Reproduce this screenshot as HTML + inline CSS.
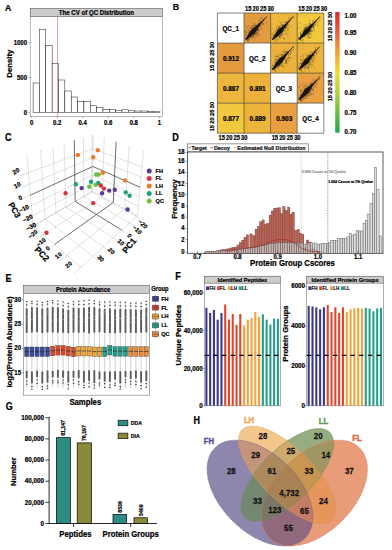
<!DOCTYPE html>
<html><head><meta charset="utf-8"><style>
html,body{margin:0;padding:0;background:#fff;width:392px;height:550px;overflow:hidden}
svg{display:block}
text{font-family:"Liberation Sans",sans-serif}
</style></head><body>
<svg width="392" height="550" viewBox="0 0 392 550">
<rect x="0" y="0" width="392" height="550" fill="#fff"/>
<text x="4.90" y="11.20" font-size="8.6" font-weight="bold" text-anchor="start" fill="#000" stroke="#000" stroke-width="0.22" transform="translate(4.90 11.20) scale(1 1.12) translate(-4.90 -11.20)">A</text>
<rect x="30.20" y="8.40" width="132.40" height="8.20" fill="#cccccc" stroke="#444" stroke-width="0.5"/>
<text x="96.40" y="14.90" font-size="6.1" font-weight="bold" text-anchor="middle" fill="#000" stroke="#000" stroke-width="0.2" transform="translate(96.40 14.90) scale(1 1.12) translate(-96.40 -14.90)">The CV of QC Distribution</text>
<rect x="30.20" y="16.60" width="132.40" height="100.00" fill="none" stroke="#8c8c8c" stroke-width="0.6"/>
<rect x="33.10" y="83.00" width="6.35" height="29.60" fill="#fff" stroke="#000" stroke-width="0.45"/>
<rect x="39.45" y="29.40" width="6.35" height="83.20" fill="#fff" stroke="#000" stroke-width="0.45"/>
<rect x="45.80" y="45.40" width="6.35" height="67.20" fill="#fff" stroke="#000" stroke-width="0.45"/>
<rect x="52.15" y="63.40" width="6.35" height="49.20" fill="#fff" stroke="#000" stroke-width="0.45"/>
<rect x="58.50" y="80.00" width="6.35" height="32.60" fill="#fff" stroke="#000" stroke-width="0.45"/>
<rect x="64.85" y="91.00" width="6.35" height="21.60" fill="#fff" stroke="#000" stroke-width="0.45"/>
<rect x="71.20" y="97.00" width="6.35" height="15.60" fill="#fff" stroke="#000" stroke-width="0.45"/>
<rect x="77.55" y="101.60" width="6.35" height="11.00" fill="#fff" stroke="#000" stroke-width="0.45"/>
<rect x="83.90" y="101.60" width="6.35" height="11.00" fill="#fff" stroke="#000" stroke-width="0.45"/>
<rect x="90.25" y="105.80" width="6.35" height="6.80" fill="#fff" stroke="#000" stroke-width="0.45"/>
<rect x="96.60" y="107.30" width="6.35" height="5.30" fill="#fff" stroke="#000" stroke-width="0.45"/>
<rect x="102.95" y="109.40" width="6.35" height="3.20" fill="#fff" stroke="#000" stroke-width="0.45"/>
<rect x="109.30" y="109.40" width="6.35" height="3.20" fill="#fff" stroke="#000" stroke-width="0.45"/>
<rect x="115.65" y="110.40" width="6.35" height="2.20" fill="#fff" stroke="#000" stroke-width="0.45"/>
<rect x="122.00" y="109.80" width="6.35" height="2.80" fill="#fff" stroke="#000" stroke-width="0.45"/>
<rect x="128.35" y="110.80" width="6.35" height="1.80" fill="#fff" stroke="#000" stroke-width="0.45"/>
<rect x="134.70" y="111.00" width="6.35" height="1.60" fill="#fff" stroke="#000" stroke-width="0.45"/>
<rect x="141.05" y="111.00" width="6.35" height="1.60" fill="#fff" stroke="#000" stroke-width="0.45"/>
<rect x="147.40" y="111.40" width="6.35" height="1.20" fill="#fff" stroke="#000" stroke-width="0.45"/>
<rect x="153.75" y="111.80" width="6.35" height="0.80" fill="#fff" stroke="#000" stroke-width="0.45"/>
<line x1="57.60" y1="16.60" x2="57.60" y2="116.60" stroke="#e05050" stroke-width="0.6"/>
<line x1="28.60" y1="112.60" x2="30.20" y2="112.60" stroke="#555" stroke-width="0.5"/>
<text x="27.00" y="114.70" font-size="6.0" font-weight="bold" text-anchor="end" fill="#000" stroke="#000" stroke-width="0.2" transform="translate(27.00 114.70) scale(1 1.12) translate(-27.00 -114.70)">0</text>
<line x1="28.60" y1="77.60" x2="30.20" y2="77.60" stroke="#555" stroke-width="0.5"/>
<text x="27.00" y="79.70" font-size="6.0" font-weight="bold" text-anchor="end" fill="#000" stroke="#000" stroke-width="0.2" transform="translate(27.00 79.70) scale(1 1.12) translate(-27.00 -79.70)">500</text>
<line x1="28.60" y1="42.60" x2="30.20" y2="42.60" stroke="#555" stroke-width="0.5"/>
<text x="27.00" y="44.70" font-size="6.0" font-weight="bold" text-anchor="end" fill="#000" stroke="#000" stroke-width="0.2" transform="translate(27.00 44.70) scale(1 1.12) translate(-27.00 -44.70)">1000</text>
<line x1="31.60" y1="116.60" x2="31.60" y2="118.30" stroke="#555" stroke-width="0.5"/>
<text x="31.60" y="125.00" font-size="6.0" font-weight="bold" text-anchor="middle" fill="#000" stroke="#000" stroke-width="0.2" transform="translate(31.60 125.00) scale(1 1.12) translate(-31.60 -125.00)">0</text>
<line x1="57.15" y1="116.60" x2="57.15" y2="118.30" stroke="#555" stroke-width="0.5"/>
<text x="57.15" y="125.00" font-size="6.0" font-weight="bold" text-anchor="middle" fill="#000" stroke="#000" stroke-width="0.2" transform="translate(57.15 125.00) scale(1 1.12) translate(-57.15 -125.00)">0.2</text>
<line x1="82.70" y1="116.60" x2="82.70" y2="118.30" stroke="#555" stroke-width="0.5"/>
<text x="82.70" y="125.00" font-size="6.0" font-weight="bold" text-anchor="middle" fill="#000" stroke="#000" stroke-width="0.2" transform="translate(82.70 125.00) scale(1 1.12) translate(-82.70 -125.00)">0.4</text>
<line x1="108.25" y1="116.60" x2="108.25" y2="118.30" stroke="#555" stroke-width="0.5"/>
<text x="108.25" y="125.00" font-size="6.0" font-weight="bold" text-anchor="middle" fill="#000" stroke="#000" stroke-width="0.2" transform="translate(108.25 125.00) scale(1 1.12) translate(-108.25 -125.00)">0.6</text>
<line x1="133.80" y1="116.60" x2="133.80" y2="118.30" stroke="#555" stroke-width="0.5"/>
<text x="133.80" y="125.00" font-size="6.0" font-weight="bold" text-anchor="middle" fill="#000" stroke="#000" stroke-width="0.2" transform="translate(133.80 125.00) scale(1 1.12) translate(-133.80 -125.00)">0.8</text>
<line x1="159.35" y1="116.60" x2="159.35" y2="118.30" stroke="#555" stroke-width="0.5"/>
<text x="159.35" y="125.00" font-size="6.0" font-weight="bold" text-anchor="middle" fill="#000" stroke="#000" stroke-width="0.2" transform="translate(159.35 125.00) scale(1 1.12) translate(-159.35 -125.00)">1</text>
<text x="11.90" y="63.70" font-size="7.75" font-weight="bold" text-anchor="middle" fill="#000" stroke="#000" stroke-width="0.22" transform="rotate(-90 11.90 63.70)">Density</text>
<text x="172.80" y="10.00" font-size="8.8" font-weight="bold" text-anchor="start" fill="#000" stroke="#000" stroke-width="0.22" transform="translate(172.80 10.00) scale(1 1.12) translate(-172.80 -10.00)">B</text>
<rect x="217.40" y="13.00" width="26.60" height="30.05" fill="#fff" stroke="none" stroke-width="0.5"/>
<text x="230.70" y="31.12" font-size="6.3" font-weight="bold" text-anchor="middle" fill="#000" stroke="#000" stroke-width="0.2" transform="translate(230.70 31.12) scale(1 1.12) translate(-230.70 -31.12)">QC_1</text>
<rect x="244.00" y="13.00" width="26.60" height="30.05" fill="#e49a3e" stroke="none" stroke-width="0.5"/>
<path d="M245.60 39.85 L247.22 39.18 L248.57 38.26 L249.86 37.29 L251.13 36.30 L252.37 35.29 L253.60 34.26 L254.82 33.23 L255.73 31.92 L256.58 30.55 L257.43 29.19 L258.30 27.84 L259.18 26.50 L260.08 25.17 L260.99 23.86 L261.91 22.55 L262.84 21.27 L263.80 19.99 L264.77 18.74 L265.77 17.51 L266.80 16.30 L266.80 16.30 L265.71 17.45 L264.59 18.57 L263.44 19.67 L262.28 20.75 L261.09 21.82 L259.89 22.87 L258.68 23.91 L257.46 24.94 L256.22 25.96 L254.97 26.96 L253.70 27.96 L252.43 28.94 L251.22 29.99 L250.32 31.31 L249.43 32.64 L248.55 33.98 L247.70 35.34 L246.87 36.73 L246.10 38.17 L245.60 39.85Z" fill="#141414"/>
<line x1="245.60" y1="39.85" x2="266.80" y2="16.30" stroke="#141414" stroke-width="0.7"/>
<path d="M257.45 32.58h0.7M251.81 37.12h0.7M252.21 31.18h0.7M263.13 20.76h0.7M255.68 32.27h0.7M259.29 24.55h0.7M254.92 25.67h0.7M251.29 31.36h0.7M245.23 34.96h0.7M246.16 38.56h0.7M252.45 30.58h0.7M251.24 27.23h0.7M254.30 31.38h0.7M256.03 25.14h0.7M247.28 28.06h0.7M246.49 28.33h0.7M249.29 39.43h0.7M247.30 40.10h0.7M254.94 28.13h0.7M257.30 29.02h0.7M258.58 24.67h0.7M249.91 32.23h0.7M249.39 35.46h0.7M252.76 36.61h0.7M244.78 37.83h0.7M245.30 31.47h0.7M260.11 18.01h0.7M251.43 30.71h0.7M259.24 19.54h0.7M257.89 23.81h0.7M251.64 29.69h0.7M254.89 25.15h0.7M254.59 31.63h0.7M259.76 18.28h0.7M262.48 23.69h0.7M252.56 33.59h0.7M255.87 36.41h0.7M254.57 28.91h0.7M252.51 31.15h0.7M250.99 29.31h0.7M261.54 17.84h0.7M246.07 39.00h0.7M254.35 32.04h0.7M252.75 31.15h0.7M257.71 30.58h0.7M251.09 31.94h0.7M263.75 20.93h0.7M254.23 39.81h0.7M256.63 25.45h0.7M249.17 37.02h0.7M247.92 32.69h0.7M247.13 36.33h0.7M258.55 24.07h0.7M248.41 38.92h0.7M256.38 31.89h0.7M259.42 23.97h0.7M253.29 31.08h0.7M250.08 37.47h0.7M260.73 23.55h0.7M252.31 31.06h0.7M248.67 32.89h0.7M250.15 30.65h0.7M248.21 29.25h0.7M255.82 28.71h0.7M256.73 32.89h0.7M249.58 33.26h0.7M252.96 34.75h0.7M251.88 37.04h0.7M254.99 34.09h0.7M253.68 29.76h0.7M246.09 37.10h0.7M254.53 33.29h0.7M253.68 27.77h0.7M258.05 30.16h0.7M252.27 30.19h0.7M254.23 34.26h0.7M254.74 25.97h0.7M254.81 27.57h0.7M253.32 36.80h0.7M256.61 25.01h0.7M255.63 31.08h0.7M250.82 33.49h0.7M253.80 23.92h0.7M257.20 30.17h0.7M253.73 25.38h0.7M253.70 27.10h0.7M257.93 28.55h0.7M253.37 27.76h0.7M253.31 35.28h0.7M250.93 36.03h0.7M255.90 27.28h0.7M265.32 18.09h0.7M261.90 17.33h0.7M247.54 40.32h0.7M256.45 26.59h0.7M249.13 26.48h0.7M248.77 31.55h0.7M255.31 33.62h0.7M255.21 30.95h0.7M249.84 33.16h0.7M253.95 29.26h0.7M258.66 22.69h0.7M261.74 19.59h0.7M257.76 23.81h0.7M261.94 22.05h0.7M257.50 29.77h0.7M248.73 31.57h0.7M247.86 40.60h0.7M249.50 32.83h0.7M258.81 34.98h0.7M246.57 39.44h0.7M253.54 33.66h0.7M245.71 38.67h0.7M260.77 28.57h0.7M260.40 21.14h0.7M254.07 29.91h0.7M245.21 35.35h0.7M258.06 26.91h0.7M256.51 33.96h0.7M250.48 36.58h0.7M253.98 30.25h0.7M256.72 28.21h0.7M255.91 29.57h0.7M262.76 20.06h0.7M259.81 26.09h0.7M254.42 34.02h0.7M252.56 37.11h0.7M249.24 33.66h0.7M257.38 30.37h0.7M259.86 27.12h0.7M250.66 29.29h0.7M257.24 28.12h0.7M251.65 37.18h0.7M252.85 27.45h0.7M253.40 25.68h0.7M250.84 35.75h0.7M246.87 38.55h0.7M249.05 38.58h0.7M251.10 34.57h0.7M246.53 37.73h0.7M259.28 26.22h0.7M247.47 40.25h0.7M257.59 25.22h0.7M259.19 21.74h0.7M256.46 33.38h0.7M262.08 25.34h0.7M245.49 32.96h0.7M252.89 25.69h0.7M250.21 28.18h0.7M260.34 26.11h0.7M256.71 27.58h0.7M253.58 29.55h0.7M256.39 28.92h0.7M255.34 27.26h0.7M263.27 20.89h0.7M262.49 24.92h0.7M246.40 31.76h0.7M259.36 23.39h0.7M253.85 29.46h0.7M251.94 27.27h0.7M252.43 29.92h0.7M248.32 25.39h0.7M258.50 26.71h0.7M245.26 38.26h0.7M255.73 31.63h0.7M257.43 33.45h0.7M251.78 28.15h0.7M252.61 35.45h0.7M253.16 35.36h0.7M259.81 26.02h0.7M258.54 24.90h0.7M252.60 29.18h0.7M247.61 30.33h0.7M248.97 31.04h0.7M247.66 38.04h0.7M255.50 27.44h0.7M261.82 24.56h0.7M257.96 24.13h0.7M248.00 38.96h0.7M257.09 30.25h0.7M258.65 30.64h0.7M254.42 33.44h0.7M245.03 30.68h0.7M255.64 36.00h0.7M247.62 40.34h0.7M250.00 33.13h0.7M254.79 30.66h0.7M249.80 35.71h0.7M257.87 29.68h0.7M254.00 37.43h0.7M265.82 23.11h0.7M248.13 37.65h0.7M246.74 39.60h0.7M254.39 25.51h0.7M246.96 38.90h0.7M255.48 25.80h0.7M246.46 26.02h0.7M251.11 34.39h0.7M258.42 32.92h0.7M254.97 26.99h0.7M256.99 30.36h0.7M259.69 29.84h0.7M257.97 21.24h0.7M258.74 35.22h0.7M254.55 34.67h0.7M252.78 29.78h0.7M262.85 23.48h0.7M255.25 33.77h0.7M246.67 36.08h0.7M258.36 25.82h0.7M250.02 36.74h0.7M258.38 31.22h0.7M258.07 25.05h0.7M251.49 32.64h0.7M256.74 34.98h0.7M263.29 23.82h0.7M255.33 28.00h0.7M257.69 25.21h0.7M251.47 25.87h0.7M255.61 35.78h0.7M246.29 33.05h0.7M257.60 35.13h0.7M260.34 22.46h0.7M251.59 32.67h0.7M249.81 35.32h0.7M248.97 28.65h0.7M250.78 32.89h0.7M247.67 32.73h0.7M261.58 28.69h0.7M251.67 30.95h0.7M255.96 27.41h0.7M253.48 37.23h0.7M247.76 34.51h0.7M248.97 32.06h0.7M254.44 32.98h0.7M261.73 23.80h0.7M251.25 27.55h0.7M251.46 28.65h0.7M256.08 33.15h0.7M254.56 28.94h0.7M250.52 34.29h0.7M252.43 27.91h0.7M253.82 34.94h0.7M245.73 38.49h0.7M251.57 39.12h0.7M257.90 28.19h0.7M256.53 28.92h0.7M251.98 25.80h0.7M256.60 30.28h0.7M248.78 39.05h0.7M254.30 24.37h0.7M251.14 32.21h0.7M252.55 33.99h0.7M247.72 36.68h0.7M256.75 30.72h0.7M253.73 29.66h0.7M253.56 23.48h0.7M257.91 25.12h0.7" stroke="#222" stroke-width="0.75" stroke-opacity="0.55" fill="none"/>
<rect x="270.60" y="13.00" width="26.60" height="30.05" fill="#edb63c" stroke="none" stroke-width="0.5"/>
<path d="M272.20 39.85 L273.82 39.18 L275.17 38.26 L276.46 37.29 L277.73 36.30 L278.97 35.29 L280.20 34.26 L281.42 33.23 L282.33 31.92 L283.18 30.55 L284.03 29.19 L284.90 27.84 L285.78 26.50 L286.68 25.17 L287.59 23.86 L288.51 22.55 L289.44 21.27 L290.40 19.99 L291.37 18.74 L292.37 17.51 L293.40 16.30 L293.40 16.30 L292.31 17.45 L291.19 18.57 L290.04 19.67 L288.88 20.75 L287.69 21.82 L286.49 22.87 L285.28 23.91 L284.06 24.94 L282.82 25.96 L281.57 26.96 L280.30 27.96 L279.03 28.94 L277.82 29.99 L276.92 31.31 L276.03 32.64 L275.15 33.98 L274.30 35.34 L273.47 36.73 L272.70 38.17 L272.20 39.85Z" fill="#141414"/>
<line x1="272.20" y1="39.85" x2="293.40" y2="16.30" stroke="#141414" stroke-width="0.7"/>
<path d="M274.06 36.21h0.7M277.21 30.38h0.7M282.46 25.15h0.7M272.93 35.60h0.7M288.71 21.57h0.7M275.54 31.54h0.7M275.23 35.83h0.7M285.06 30.37h0.7M286.46 24.88h0.7M275.64 32.08h0.7M271.48 37.92h0.7M281.94 27.62h0.7M279.53 25.95h0.7M285.38 26.24h0.7M281.83 31.07h0.7M272.09 38.48h0.7M280.33 38.52h0.7M278.52 30.20h0.7M282.80 24.34h0.7M286.32 22.17h0.7M278.14 28.70h0.7M280.54 22.73h0.7M282.36 25.46h0.7M278.17 27.71h0.7M282.16 29.62h0.7M284.05 27.93h0.7M285.50 28.93h0.7M275.97 29.84h0.7M275.94 38.15h0.7M281.52 34.71h0.7M278.48 28.02h0.7M288.26 28.77h0.7M277.41 29.19h0.7M278.65 36.53h0.7M277.01 32.61h0.7M283.90 26.90h0.7M279.95 28.69h0.7M278.08 34.08h0.7M282.76 30.85h0.7M279.17 33.76h0.7M283.07 28.12h0.7M285.33 29.26h0.7M281.78 29.56h0.7M276.83 36.06h0.7M279.47 30.21h0.7M278.07 35.82h0.7M293.04 17.56h0.7M282.11 30.91h0.7M278.14 33.70h0.7M276.13 32.55h0.7M282.28 29.69h0.7M278.15 29.21h0.7M279.51 26.91h0.7M283.65 25.87h0.7M282.59 32.14h0.7M280.72 25.24h0.7M280.45 32.56h0.7M280.23 30.70h0.7M282.85 28.37h0.7M281.85 30.25h0.7M287.79 23.94h0.7M282.43 26.92h0.7M285.62 24.35h0.7M280.23 23.10h0.7M281.61 28.96h0.7M281.63 35.61h0.7M282.27 28.07h0.7M282.68 37.15h0.7M285.37 27.65h0.7M280.01 36.97h0.7M282.75 27.06h0.7M276.11 27.29h0.7M281.63 25.19h0.7M283.83 25.37h0.7M278.63 34.41h0.7M279.13 27.06h0.7M281.84 32.17h0.7M276.10 28.66h0.7M277.11 29.49h0.7M278.10 33.51h0.7M279.92 30.24h0.7M273.47 39.41h0.7M278.71 30.52h0.7M285.81 33.59h0.7M271.82 34.51h0.7M282.78 25.20h0.7M285.27 22.41h0.7M280.42 34.73h0.7M285.68 26.41h0.7M282.53 27.84h0.7M278.14 32.26h0.7M287.64 24.83h0.7M281.53 31.02h0.7M286.63 28.04h0.7M279.87 30.93h0.7M287.80 33.75h0.7M284.61 31.71h0.7M274.86 39.50h0.7M272.35 36.04h0.7M277.42 33.40h0.7M282.34 30.25h0.7M280.75 28.40h0.7M293.08 17.43h0.7M287.59 30.43h0.7M286.13 26.33h0.7M286.18 32.37h0.7M273.80 34.30h0.7M276.70 25.49h0.7M279.55 36.65h0.7M278.94 33.15h0.7M281.71 24.92h0.7M280.56 27.80h0.7M275.09 35.56h0.7M279.44 29.83h0.7M279.79 35.77h0.7M286.88 25.29h0.7M277.61 28.57h0.7M274.51 32.50h0.7M283.69 31.19h0.7M284.85 25.71h0.7M279.34 32.79h0.7M282.61 31.04h0.7M286.55 22.01h0.7M288.03 17.60h0.7M275.48 35.27h0.7M289.45 19.13h0.7M285.20 24.25h0.7M279.06 27.56h0.7M291.13 18.74h0.7M283.05 38.28h0.7M282.45 30.34h0.7M277.91 29.29h0.7M273.78 37.51h0.7M288.69 22.64h0.7M282.58 33.76h0.7M279.22 37.78h0.7M278.60 28.71h0.7M284.78 27.82h0.7M279.62 32.67h0.7M287.55 27.52h0.7M271.15 29.72h0.7M289.84 19.66h0.7M279.79 33.51h0.7M281.22 34.88h0.7M274.56 36.48h0.7M277.63 39.36h0.7M282.31 34.19h0.7M285.38 21.77h0.7M281.48 33.21h0.7M280.59 29.89h0.7M286.18 27.56h0.7M277.63 33.19h0.7M284.08 27.47h0.7M278.77 27.40h0.7M288.51 21.16h0.7M281.84 28.99h0.7M281.34 30.41h0.7M277.63 35.45h0.7M286.86 24.81h0.7M284.92 27.51h0.7M285.14 34.15h0.7M278.39 34.71h0.7M285.91 25.58h0.7M273.66 33.90h0.7M286.63 21.25h0.7M282.03 31.56h0.7M276.97 26.23h0.7M272.70 39.02h0.7M276.53 33.89h0.7M281.48 30.30h0.7M271.57 34.67h0.7M283.96 24.63h0.7M271.49 33.07h0.7M280.66 25.43h0.7M277.08 36.93h0.7M283.31 29.95h0.7M275.50 34.96h0.7M279.63 35.65h0.7M280.14 26.58h0.7M283.01 27.26h0.7M281.11 35.33h0.7M274.34 40.29h0.7M282.44 21.84h0.7M279.38 31.04h0.7M274.32 35.28h0.7M277.05 34.74h0.7M273.08 28.80h0.7M287.61 25.51h0.7M278.69 36.42h0.7M288.31 18.41h0.7M277.51 31.41h0.7M282.67 27.01h0.7M276.29 39.56h0.7M281.00 33.73h0.7M290.54 17.91h0.7M280.99 34.56h0.7M281.50 32.16h0.7M287.46 36.57h0.7M284.30 27.74h0.7M282.16 30.59h0.7M272.71 38.51h0.7M281.94 24.59h0.7M280.65 30.00h0.7M284.23 38.43h0.7M284.64 27.28h0.7M277.20 34.67h0.7M279.07 31.77h0.7M287.32 34.33h0.7M289.43 25.74h0.7M291.16 26.97h0.7M274.68 31.20h0.7M282.25 29.87h0.7M279.37 28.90h0.7M287.14 29.79h0.7M281.22 28.82h0.7M285.81 23.80h0.7M279.83 32.97h0.7M275.35 41.41h0.7M281.51 32.14h0.7M283.06 29.58h0.7M277.57 40.12h0.7M283.97 27.97h0.7M291.53 15.89h0.7M283.98 26.41h0.7M276.76 40.94h0.7M273.66 38.67h0.7M280.78 31.28h0.7M279.17 37.85h0.7M279.08 26.56h0.7M275.55 37.17h0.7M276.12 37.17h0.7M280.99 27.58h0.7M271.11 37.59h0.7M281.29 27.56h0.7M288.85 20.30h0.7M283.93 29.72h0.7M281.87 30.59h0.7M285.19 24.96h0.7M281.53 27.97h0.7M290.26 20.19h0.7M279.35 21.32h0.7M275.74 30.50h0.7M279.84 29.26h0.7M275.27 35.35h0.7M286.44 27.91h0.7M280.74 35.43h0.7M279.26 34.91h0.7M278.95 36.89h0.7M291.24 18.10h0.7M284.21 22.07h0.7M283.89 39.22h0.7M281.65 31.89h0.7M273.10 38.83h0.7M279.71 36.86h0.7M284.27 38.62h0.7M276.25 36.67h0.7" stroke="#222" stroke-width="0.75" stroke-opacity="0.55" fill="none"/>
<rect x="297.20" y="13.00" width="26.60" height="30.05" fill="#f2c83e" stroke="none" stroke-width="0.5"/>
<path d="M298.80 39.85 L300.42 39.18 L301.77 38.26 L303.06 37.29 L304.33 36.30 L305.57 35.29 L306.80 34.26 L308.02 33.23 L308.93 31.92 L309.78 30.55 L310.63 29.19 L311.50 27.84 L312.38 26.50 L313.28 25.17 L314.19 23.86 L315.11 22.55 L316.04 21.27 L317.00 19.99 L317.97 18.74 L318.97 17.51 L320.00 16.30 L320.00 16.30 L318.91 17.45 L317.79 18.57 L316.64 19.67 L315.48 20.75 L314.29 21.82 L313.09 22.87 L311.88 23.91 L310.66 24.94 L309.42 25.96 L308.17 26.96 L306.90 27.96 L305.63 28.94 L304.42 29.99 L303.52 31.31 L302.63 32.64 L301.75 33.98 L300.90 35.34 L300.07 36.73 L299.30 38.17 L298.80 39.85Z" fill="#141414"/>
<line x1="298.80" y1="39.85" x2="320.00" y2="16.30" stroke="#141414" stroke-width="0.7"/>
<path d="M298.90 38.66h0.7M312.82 23.96h0.7M302.13 37.94h0.7M312.49 26.16h0.7M309.56 23.13h0.7M316.68 21.74h0.7M301.93 41.39h0.7M306.36 33.96h0.7M298.60 38.39h0.7M300.56 40.15h0.7M303.87 29.49h0.7M308.33 34.86h0.7M304.91 35.59h0.7M298.64 33.73h0.7M304.34 32.33h0.7M310.27 31.43h0.7M304.48 31.77h0.7M311.64 27.17h0.7M307.64 31.22h0.7M298.71 38.49h0.7M299.32 38.25h0.7M308.58 23.14h0.7M310.62 24.78h0.7M305.12 30.44h0.7M309.35 25.63h0.7M299.87 39.53h0.7M308.20 32.65h0.7M307.74 25.19h0.7M308.51 29.61h0.7M307.19 31.03h0.7M307.55 27.72h0.7M309.09 33.46h0.7M302.17 35.79h0.7M300.40 33.75h0.7M305.77 32.97h0.7M314.10 22.31h0.7M312.56 26.42h0.7M300.28 23.47h0.7M308.00 29.89h0.7M302.70 36.05h0.7M312.56 21.35h0.7M307.06 35.02h0.7M298.06 37.91h0.7M310.74 30.76h0.7M314.11 25.17h0.7M318.44 18.85h0.7M300.91 36.81h0.7M310.91 27.84h0.7M299.95 39.60h0.7M303.14 34.15h0.7M313.87 22.65h0.7M303.92 33.61h0.7M308.96 37.99h0.7M312.76 27.61h0.7M302.65 32.66h0.7M303.66 24.76h0.7M309.94 23.23h0.7M308.54 30.62h0.7M304.38 35.22h0.7M314.10 30.01h0.7M312.94 31.83h0.7M309.06 27.66h0.7M310.38 25.14h0.7M309.42 30.93h0.7M313.04 24.90h0.7M302.57 39.88h0.7M307.40 28.94h0.7M304.77 35.75h0.7M310.30 30.02h0.7M310.57 34.60h0.7M307.10 32.72h0.7M310.61 31.55h0.7M303.39 33.40h0.7M304.57 30.03h0.7M301.48 31.34h0.7M313.52 29.01h0.7M304.28 36.93h0.7M300.37 34.99h0.7M306.10 32.35h0.7M305.42 24.51h0.7M301.30 37.36h0.7M311.53 36.58h0.7M304.34 30.39h0.7M308.78 20.50h0.7M303.04 42.39h0.7M304.52 33.80h0.7M304.11 29.34h0.7M303.24 28.17h0.7M313.04 26.65h0.7M308.69 25.37h0.7M298.79 38.56h0.7M302.90 36.80h0.7M298.42 37.62h0.7M308.86 30.65h0.7M304.72 27.29h0.7M308.59 38.05h0.7M310.22 24.31h0.7M315.96 20.46h0.7M305.21 28.67h0.7M314.43 22.77h0.7M304.56 28.80h0.7M301.61 37.35h0.7M311.03 33.79h0.7M302.23 34.44h0.7M313.21 26.57h0.7M307.40 36.93h0.7M311.27 29.63h0.7M310.94 30.54h0.7M304.78 32.13h0.7M312.94 25.40h0.7M311.35 30.76h0.7M309.24 30.05h0.7M298.73 38.51h0.7M309.50 24.77h0.7M306.46 32.46h0.7M308.80 33.14h0.7M309.09 27.69h0.7M311.72 24.31h0.7M304.65 34.76h0.7M309.90 26.94h0.7M301.23 35.09h0.7M309.82 30.64h0.7M315.29 21.12h0.7M300.74 26.65h0.7M314.56 25.07h0.7M305.56 28.86h0.7M300.40 40.01h0.7M306.90 37.47h0.7M313.14 28.64h0.7M309.62 33.90h0.7M303.16 39.90h0.7M304.19 28.01h0.7M303.00 30.39h0.7M306.88 27.65h0.7M300.67 36.46h0.7M306.69 32.11h0.7M312.85 28.98h0.7M312.59 31.41h0.7M299.33 39.05h0.7M309.36 23.58h0.7M306.86 32.00h0.7M299.17 37.68h0.7M309.42 26.80h0.7M317.60 25.40h0.7M304.06 28.25h0.7M305.69 29.39h0.7M299.94 37.23h0.7M304.22 32.09h0.7M313.37 27.34h0.7M308.42 27.64h0.7M309.26 28.31h0.7M306.12 27.34h0.7M300.60 40.19h0.7M303.32 32.48h0.7M307.04 30.40h0.7M309.67 35.44h0.7M308.38 30.27h0.7M302.93 34.82h0.7M309.23 27.92h0.7M306.74 26.95h0.7M306.84 26.56h0.7M303.35 31.03h0.7M310.56 31.75h0.7M306.70 27.23h0.7M310.27 31.90h0.7M311.55 27.54h0.7M300.95 35.30h0.7M303.04 32.97h0.7M308.43 29.32h0.7M307.03 33.50h0.7M303.22 33.46h0.7M304.59 27.06h0.7M300.32 32.17h0.7M302.12 35.59h0.7M307.53 31.87h0.7M306.35 26.55h0.7M317.53 22.29h0.7M300.33 35.58h0.7M305.50 33.34h0.7M310.11 27.28h0.7M312.68 27.34h0.7M304.00 34.50h0.7M310.76 24.93h0.7M312.68 24.69h0.7M314.66 22.35h0.7M311.97 20.79h0.7M314.59 23.57h0.7M308.12 34.77h0.7M308.09 33.66h0.7M313.45 27.14h0.7M318.96 20.40h0.7M319.56 18.20h0.7M308.87 30.46h0.7M304.07 27.92h0.7M305.21 27.24h0.7M305.19 31.21h0.7M302.20 31.04h0.7M307.72 29.81h0.7M314.55 24.17h0.7M310.84 24.86h0.7M302.71 29.24h0.7M304.75 36.28h0.7M306.00 31.10h0.7M308.27 36.58h0.7M309.81 33.25h0.7M309.41 32.72h0.7M300.02 32.95h0.7M311.90 24.31h0.7M310.43 30.78h0.7M311.00 27.30h0.7M300.44 35.39h0.7M308.95 31.62h0.7M310.40 28.43h0.7M303.69 34.39h0.7M310.30 24.14h0.7M306.72 35.27h0.7M315.16 22.76h0.7M305.01 28.33h0.7M304.72 29.27h0.7M309.55 31.19h0.7M312.03 30.50h0.7M300.02 33.38h0.7M315.10 24.76h0.7M303.05 35.68h0.7M302.27 35.91h0.7M310.79 30.69h0.7M300.19 33.08h0.7M309.26 26.90h0.7M312.14 21.76h0.7M298.06 28.16h0.7M314.61 26.51h0.7M308.57 27.73h0.7M309.32 37.19h0.7M310.39 24.89h0.7M310.41 29.25h0.7M307.78 26.15h0.7M307.66 34.84h0.7M309.87 26.30h0.7M318.87 18.12h0.7M307.61 34.50h0.7M310.81 26.06h0.7M316.97 22.32h0.7M309.11 31.82h0.7M309.87 26.50h0.7M309.72 25.76h0.7M307.89 33.13h0.7M300.89 36.28h0.7M304.29 36.70h0.7M308.90 37.21h0.7M313.50 21.68h0.7M307.25 28.87h0.7M308.91 31.91h0.7M317.19 25.47h0.7M314.33 19.57h0.7M304.68 32.46h0.7M306.23 32.35h0.7M309.46 26.31h0.7M310.09 38.34h0.7" stroke="#222" stroke-width="0.75" stroke-opacity="0.55" fill="none"/>
<rect x="217.40" y="43.05" width="26.60" height="30.05" fill="#e49a3e" stroke="none" stroke-width="0.5"/>
<text x="231.00" y="61.37" font-size="6.4" font-weight="bold" text-anchor="middle" fill="#000" stroke="#000" stroke-width="0.2" transform="translate(231.00 61.37) scale(1 1.12) translate(-231.00 -61.37)">0.912</text>
<rect x="244.00" y="43.05" width="26.60" height="30.05" fill="#fff" stroke="none" stroke-width="0.5"/>
<text x="257.30" y="61.17" font-size="6.3" font-weight="bold" text-anchor="middle" fill="#000" stroke="#000" stroke-width="0.2" transform="translate(257.30 61.17) scale(1 1.12) translate(-257.30 -61.17)">QC_2</text>
<rect x="270.60" y="43.05" width="26.60" height="30.05" fill="#ecb23c" stroke="none" stroke-width="0.5"/>
<path d="M272.20 69.90 L273.82 69.23 L275.17 68.31 L276.46 67.34 L277.73 66.35 L278.97 65.34 L280.20 64.31 L281.42 63.28 L282.33 61.97 L283.18 60.60 L284.03 59.24 L284.90 57.89 L285.78 56.55 L286.68 55.22 L287.59 53.91 L288.51 52.60 L289.44 51.32 L290.40 50.04 L291.37 48.79 L292.37 47.56 L293.40 46.35 L293.40 46.35 L292.31 47.50 L291.19 48.62 L290.04 49.72 L288.88 50.80 L287.69 51.87 L286.49 52.92 L285.28 53.96 L284.06 54.99 L282.82 56.01 L281.57 57.01 L280.30 58.01 L279.03 58.99 L277.82 60.04 L276.92 61.36 L276.03 62.69 L275.15 64.03 L274.30 65.39 L273.47 66.78 L272.70 68.22 L272.20 69.90Z" fill="#141414"/>
<line x1="272.20" y1="69.90" x2="293.40" y2="46.35" stroke="#141414" stroke-width="0.7"/>
<path d="M287.95 60.54h0.7M281.32 66.25h0.7M290.20 53.33h0.7M278.45 65.41h0.7M274.70 62.21h0.7M281.91 61.62h0.7M279.49 61.27h0.7M282.36 56.05h0.7M284.31 59.70h0.7M284.84 58.05h0.7M275.53 65.08h0.7M280.47 64.22h0.7M273.03 69.37h0.7M274.27 69.53h0.7M278.46 63.21h0.7M287.94 58.27h0.7M276.40 65.76h0.7M272.58 68.97h0.7M279.07 65.33h0.7M280.50 61.24h0.7M274.94 65.61h0.7M275.63 66.21h0.7M273.80 68.94h0.7M289.99 58.52h0.7M289.52 54.30h0.7M287.30 58.86h0.7M281.54 61.51h0.7M272.19 68.61h0.7M283.42 52.10h0.7M282.12 58.70h0.7M279.89 63.00h0.7M278.22 57.94h0.7M275.95 56.85h0.7M287.68 52.68h0.7M283.30 54.46h0.7M290.50 52.05h0.7M282.83 59.08h0.7M281.02 57.10h0.7M279.57 60.66h0.7M285.73 61.39h0.7M286.54 54.85h0.7M283.16 56.70h0.7M274.70 59.44h0.7M272.75 65.00h0.7M280.03 60.40h0.7M285.14 60.34h0.7M283.64 56.70h0.7M277.93 62.21h0.7M281.85 55.72h0.7M273.48 67.82h0.7M287.60 56.80h0.7M279.88 54.03h0.7M281.84 62.87h0.7M288.74 57.50h0.7M277.18 65.96h0.7M273.21 68.16h0.7M280.96 64.25h0.7M277.58 56.04h0.7M281.11 61.91h0.7M286.48 52.05h0.7M275.52 63.76h0.7M285.02 54.76h0.7M282.18 60.93h0.7M279.31 66.78h0.7M275.87 71.14h0.7M275.59 62.02h0.7M274.73 61.93h0.7M274.97 63.44h0.7M274.99 66.15h0.7M280.94 57.72h0.7M279.69 57.84h0.7M281.03 58.67h0.7M275.86 66.24h0.7M278.26 59.81h0.7M281.80 61.88h0.7M274.10 65.95h0.7M283.60 57.24h0.7M288.66 60.33h0.7M275.56 67.50h0.7M282.51 65.52h0.7M280.66 55.07h0.7M285.71 54.92h0.7M279.33 62.09h0.7M279.79 57.64h0.7M282.25 65.43h0.7M274.77 64.62h0.7M282.55 54.97h0.7M280.52 62.23h0.7M275.84 64.55h0.7M276.04 64.74h0.7M282.00 59.07h0.7M282.64 59.97h0.7M282.42 54.69h0.7M284.87 63.18h0.7M278.89 61.10h0.7M278.96 58.88h0.7M283.24 57.60h0.7M281.79 63.06h0.7M284.09 52.32h0.7M277.70 62.48h0.7M275.27 68.76h0.7M291.38 50.37h0.7M283.61 51.32h0.7M275.44 59.89h0.7M284.09 56.25h0.7M281.10 62.51h0.7M287.19 59.23h0.7M288.39 54.62h0.7M274.83 70.50h0.7M277.54 56.79h0.7M280.90 59.12h0.7M282.64 63.11h0.7M275.52 68.45h0.7M284.49 52.74h0.7M286.21 52.41h0.7M279.31 66.18h0.7M276.12 56.54h0.7M279.26 65.21h0.7M277.03 62.28h0.7M280.70 60.42h0.7M275.39 62.14h0.7M285.26 60.47h0.7M273.39 69.69h0.7M283.85 54.00h0.7M285.25 51.15h0.7M287.87 58.02h0.7M284.23 49.30h0.7M278.60 58.04h0.7M285.46 61.09h0.7M286.01 61.42h0.7M271.76 68.10h0.7M279.80 64.63h0.7M285.07 53.03h0.7M278.22 66.94h0.7M275.52 68.21h0.7M276.69 64.54h0.7M290.01 49.52h0.7M278.96 58.52h0.7M286.29 60.31h0.7M281.15 54.92h0.7M285.68 61.58h0.7M275.93 65.17h0.7M275.15 64.19h0.7M273.32 63.15h0.7M282.82 57.88h0.7M271.45 67.95h0.7M274.84 62.03h0.7M280.93 59.28h0.7M279.55 55.99h0.7M276.24 63.47h0.7M278.04 61.66h0.7M276.85 64.18h0.7M287.37 51.09h0.7M273.36 69.40h0.7M278.12 66.73h0.7M288.30 57.56h0.7M277.51 56.23h0.7M289.37 53.27h0.7M286.83 53.94h0.7M279.12 62.35h0.7M274.15 70.37h0.7M276.39 62.41h0.7M280.57 56.92h0.7M283.35 55.31h0.7M292.97 49.41h0.7M284.51 57.47h0.7M279.82 59.10h0.7M272.12 68.54h0.7M275.95 63.55h0.7M276.74 56.05h0.7M273.69 65.76h0.7M280.81 64.81h0.7M292.63 46.94h0.7M283.78 57.07h0.7M285.81 62.52h0.7M282.86 60.70h0.7M279.53 58.87h0.7M285.52 54.60h0.7M286.10 51.40h0.7M286.32 61.18h0.7M278.67 64.39h0.7M288.26 53.29h0.7M276.31 63.94h0.7M280.98 57.66h0.7M279.16 62.88h0.7M278.06 69.62h0.7M277.99 63.47h0.7M284.57 62.85h0.7M284.08 66.94h0.7M290.30 51.59h0.7M272.19 65.40h0.7M280.37 62.36h0.7M286.11 59.18h0.7M283.06 58.15h0.7M278.41 54.56h0.7M283.85 52.27h0.7M271.92 68.37h0.7M275.80 59.96h0.7M280.01 61.74h0.7M284.44 57.86h0.7M278.68 63.30h0.7M286.33 53.48h0.7M274.74 56.33h0.7M286.60 62.90h0.7M283.86 56.19h0.7M288.49 55.65h0.7M285.46 51.86h0.7M276.79 67.66h0.7M284.20 58.48h0.7M275.27 69.14h0.7M291.18 51.66h0.7M293.25 47.49h0.7M285.62 63.50h0.7M281.76 51.78h0.7M274.03 68.77h0.7M282.74 66.97h0.7M289.91 53.70h0.7M278.79 61.59h0.7M283.91 55.76h0.7M284.57 57.37h0.7M284.67 56.56h0.7M271.95 65.11h0.7M281.25 54.47h0.7M279.21 64.50h0.7M285.91 58.61h0.7M286.07 60.96h0.7M280.84 65.91h0.7M273.70 66.83h0.7M284.01 59.43h0.7M277.84 60.36h0.7M275.02 71.16h0.7M272.61 68.68h0.7M277.90 60.52h0.7M274.31 67.03h0.7M274.56 68.39h0.7M286.34 51.53h0.7M280.51 58.34h0.7M275.49 59.63h0.7M280.92 60.08h0.7M290.24 57.11h0.7M277.81 68.10h0.7M275.56 63.79h0.7M276.03 67.47h0.7M286.24 53.95h0.7M279.82 57.71h0.7M275.86 59.19h0.7M275.15 56.30h0.7M292.68 49.79h0.7M276.75 62.54h0.7M278.87 62.98h0.7M285.97 63.12h0.7M273.75 58.79h0.7M282.75 60.00h0.7M278.44 66.44h0.7M277.63 59.65h0.7M276.86 58.04h0.7M282.87 66.42h0.7" stroke="#222" stroke-width="0.75" stroke-opacity="0.55" fill="none"/>
<rect x="297.20" y="43.05" width="26.60" height="30.05" fill="#edb43c" stroke="none" stroke-width="0.5"/>
<path d="M298.80 69.90 L300.42 69.23 L301.77 68.31 L303.06 67.34 L304.33 66.35 L305.57 65.34 L306.80 64.31 L308.02 63.28 L308.93 61.97 L309.78 60.60 L310.63 59.24 L311.50 57.89 L312.38 56.55 L313.28 55.22 L314.19 53.91 L315.11 52.60 L316.04 51.32 L317.00 50.04 L317.97 48.79 L318.97 47.56 L320.00 46.35 L320.00 46.35 L318.91 47.50 L317.79 48.62 L316.64 49.72 L315.48 50.80 L314.29 51.87 L313.09 52.92 L311.88 53.96 L310.66 54.99 L309.42 56.01 L308.17 57.01 L306.90 58.01 L305.63 58.99 L304.42 60.04 L303.52 61.36 L302.63 62.69 L301.75 64.03 L300.90 65.39 L300.07 66.78 L299.30 68.22 L298.80 69.90Z" fill="#141414"/>
<line x1="298.80" y1="69.90" x2="320.00" y2="46.35" stroke="#141414" stroke-width="0.7"/>
<path d="M313.79 55.10h0.7M308.44 60.47h0.7M301.99 66.97h0.7M302.44 63.04h0.7M313.66 51.38h0.7M307.73 60.36h0.7M311.51 54.93h0.7M310.36 58.62h0.7M304.86 60.10h0.7M304.53 67.85h0.7M305.69 67.24h0.7M314.40 51.11h0.7M300.67 63.64h0.7M308.00 66.03h0.7M301.26 62.45h0.7M299.64 69.23h0.7M312.49 60.98h0.7M308.45 59.02h0.7M314.27 67.13h0.7M315.96 53.26h0.7M305.27 61.78h0.7M306.66 60.72h0.7M308.20 56.66h0.7M314.96 49.61h0.7M311.84 58.35h0.7M314.12 57.56h0.7M309.26 59.23h0.7M315.99 54.48h0.7M309.48 62.31h0.7M302.49 67.38h0.7M301.11 70.70h0.7M306.63 65.65h0.7M308.38 56.93h0.7M314.32 58.61h0.7M307.46 68.61h0.7M307.45 56.66h0.7M307.23 62.59h0.7M309.40 55.28h0.7M306.99 63.42h0.7M313.08 62.82h0.7M312.96 57.46h0.7M301.44 63.28h0.7M302.56 65.67h0.7M313.67 59.99h0.7M310.79 54.00h0.7M312.56 65.45h0.7M309.46 60.73h0.7M298.74 65.24h0.7M304.75 62.26h0.7M309.82 57.35h0.7M302.96 72.12h0.7M305.98 55.19h0.7M316.50 52.49h0.7M306.94 61.29h0.7M305.48 53.59h0.7M312.71 55.51h0.7M309.73 55.82h0.7M308.48 66.88h0.7M301.13 70.72h0.7M310.60 52.01h0.7M304.83 59.92h0.7M302.03 60.51h0.7M301.53 67.36h0.7M307.82 63.09h0.7M310.18 55.45h0.7M319.16 50.97h0.7M300.14 68.09h0.7M307.08 63.13h0.7M306.33 68.42h0.7M311.18 67.08h0.7M308.45 68.24h0.7M311.46 59.86h0.7M309.97 59.23h0.7M302.60 65.12h0.7M303.74 63.67h0.7M307.80 64.01h0.7M308.29 58.30h0.7M300.75 70.37h0.7M303.30 63.38h0.7M309.50 57.98h0.7M308.17 60.15h0.7M300.42 70.08h0.7M308.57 63.19h0.7M306.95 59.06h0.7M314.35 53.08h0.7M313.19 56.04h0.7M313.07 57.88h0.7M308.64 55.58h0.7M309.88 64.73h0.7M305.97 60.29h0.7M309.87 62.23h0.7M303.49 64.56h0.7M303.76 61.24h0.7M309.91 55.63h0.7M308.55 60.95h0.7M310.57 58.86h0.7M309.59 55.35h0.7M300.62 70.26h0.7M314.59 51.44h0.7M309.65 62.10h0.7M303.62 64.43h0.7M306.82 63.78h0.7M311.61 63.51h0.7M301.84 63.70h0.7M301.37 67.89h0.7M306.39 60.48h0.7M308.36 55.67h0.7M304.45 70.86h0.7M305.24 58.28h0.7M312.49 55.23h0.7M303.84 65.83h0.7M313.50 56.03h0.7M311.22 64.50h0.7M303.14 64.43h0.7M307.66 56.12h0.7M311.31 57.55h0.7M312.53 55.80h0.7M315.11 48.82h0.7M304.54 61.15h0.7M309.09 61.70h0.7M304.73 67.51h0.7M312.89 54.76h0.7M302.32 68.34h0.7M307.62 56.43h0.7M303.21 62.79h0.7M301.62 68.16h0.7M313.20 55.14h0.7M304.29 63.76h0.7M311.84 64.45h0.7M306.80 63.64h0.7M309.06 64.54h0.7M305.02 65.46h0.7M307.42 63.49h0.7M300.90 67.43h0.7M313.69 55.62h0.7M308.00 70.35h0.7M309.16 57.57h0.7M303.68 60.10h0.7M316.33 53.97h0.7M312.83 51.65h0.7M299.84 67.01h0.7M298.86 63.56h0.7M308.39 56.55h0.7M311.43 61.13h0.7M302.51 63.59h0.7M310.83 51.99h0.7M302.31 60.49h0.7M304.66 60.20h0.7M307.04 58.53h0.7M311.40 53.38h0.7M308.38 62.51h0.7M301.68 63.92h0.7M305.49 60.27h0.7M309.40 55.36h0.7M301.12 69.21h0.7M301.87 63.60h0.7M308.61 64.46h0.7M311.07 56.82h0.7M307.36 58.38h0.7M316.33 53.01h0.7M305.13 66.63h0.7M299.52 66.22h0.7M307.43 67.34h0.7M316.33 50.44h0.7M307.98 65.94h0.7M308.41 66.66h0.7M304.73 67.26h0.7M307.20 68.03h0.7M306.27 58.51h0.7M302.13 54.95h0.7M309.07 61.60h0.7M317.03 47.41h0.7M314.76 56.10h0.7M309.96 56.25h0.7M306.14 57.95h0.7M306.02 56.76h0.7M305.12 63.30h0.7M300.43 62.69h0.7M307.65 61.53h0.7M311.12 57.81h0.7M314.93 51.89h0.7M311.95 52.29h0.7M311.75 58.32h0.7M315.22 50.20h0.7M315.78 50.79h0.7M301.33 59.00h0.7M310.60 54.92h0.7M311.55 56.38h0.7M311.11 56.47h0.7M303.15 63.11h0.7M308.38 61.42h0.7M305.82 66.27h0.7M297.71 67.64h0.7M311.13 57.44h0.7M318.02 50.98h0.7M300.47 63.62h0.7M307.25 60.20h0.7M309.78 55.80h0.7M302.35 62.63h0.7M305.10 58.73h0.7M308.56 62.86h0.7M303.66 58.86h0.7M311.28 59.16h0.7M302.33 64.27h0.7M298.26 67.45h0.7M299.29 64.02h0.7M308.52 67.83h0.7M311.91 53.92h0.7M309.36 58.42h0.7M303.00 55.76h0.7M303.36 58.74h0.7M304.74 62.70h0.7M311.84 61.03h0.7M309.21 54.19h0.7M306.69 64.03h0.7M300.33 56.56h0.7M309.37 55.54h0.7M302.48 56.72h0.7M303.95 68.64h0.7M305.98 64.04h0.7M314.78 52.17h0.7M306.59 59.81h0.7M311.66 56.82h0.7M312.50 61.24h0.7M312.06 60.20h0.7M302.56 64.48h0.7M308.72 55.63h0.7M300.21 67.97h0.7M305.67 63.99h0.7M314.08 51.63h0.7M301.40 65.72h0.7M303.09 62.52h0.7M313.41 55.44h0.7M308.43 58.06h0.7M311.57 55.33h0.7M315.25 51.58h0.7M308.55 62.52h0.7M315.24 47.67h0.7M306.81 55.84h0.7M298.81 68.63h0.7M308.15 53.43h0.7M309.59 66.76h0.7M312.55 53.48h0.7M310.36 57.20h0.7M302.44 61.88h0.7M312.02 53.06h0.7M305.04 60.14h0.7M299.66 68.21h0.7M314.69 49.65h0.7M309.75 63.67h0.7M309.17 58.14h0.7M310.48 58.00h0.7M304.59 59.02h0.7M300.66 59.15h0.7M307.13 59.39h0.7M300.37 60.59h0.7M300.10 59.50h0.7M307.46 55.30h0.7" stroke="#222" stroke-width="0.75" stroke-opacity="0.55" fill="none"/>
<rect x="217.40" y="73.10" width="26.60" height="30.05" fill="#edb63c" stroke="none" stroke-width="0.5"/>
<text x="231.00" y="91.42" font-size="6.4" font-weight="bold" text-anchor="middle" fill="#000" stroke="#000" stroke-width="0.2" transform="translate(231.00 91.42) scale(1 1.12) translate(-231.00 -91.42)">0.887</text>
<rect x="244.00" y="73.10" width="26.60" height="30.05" fill="#ecb23c" stroke="none" stroke-width="0.5"/>
<text x="257.60" y="91.42" font-size="6.4" font-weight="bold" text-anchor="middle" fill="#000" stroke="#000" stroke-width="0.2" transform="translate(257.60 91.42) scale(1 1.12) translate(-257.60 -91.42)">0.891</text>
<rect x="270.60" y="73.10" width="26.60" height="30.05" fill="#fff" stroke="none" stroke-width="0.5"/>
<text x="283.90" y="91.22" font-size="6.3" font-weight="bold" text-anchor="middle" fill="#000" stroke="#000" stroke-width="0.2" transform="translate(283.90 91.22) scale(1 1.12) translate(-283.90 -91.22)">QC_3</text>
<rect x="297.20" y="73.10" width="26.60" height="30.05" fill="#e8a040" stroke="none" stroke-width="0.5"/>
<path d="M298.80 99.95 L300.42 99.28 L301.77 98.36 L303.06 97.39 L304.33 96.40 L305.57 95.39 L306.80 94.36 L308.02 93.33 L308.93 92.02 L309.78 90.65 L310.63 89.29 L311.50 87.94 L312.38 86.60 L313.28 85.27 L314.19 83.96 L315.11 82.65 L316.04 81.37 L317.00 80.09 L317.97 78.84 L318.97 77.61 L320.00 76.40 L320.00 76.40 L318.91 77.55 L317.79 78.67 L316.64 79.77 L315.48 80.85 L314.29 81.92 L313.09 82.97 L311.88 84.01 L310.66 85.04 L309.42 86.06 L308.17 87.06 L306.90 88.06 L305.63 89.04 L304.42 90.09 L303.52 91.41 L302.63 92.74 L301.75 94.08 L300.90 95.44 L300.07 96.83 L299.30 98.27 L298.80 99.95Z" fill="#141414"/>
<line x1="298.80" y1="99.95" x2="320.00" y2="76.40" stroke="#141414" stroke-width="0.7"/>
<path d="M309.51 84.71h0.7M311.24 88.12h0.7M310.47 85.65h0.7M299.92 99.68h0.7M300.36 90.85h0.7M302.24 96.97h0.7M310.64 88.02h0.7M312.40 88.80h0.7M305.34 92.37h0.7M304.98 91.33h0.7M306.86 91.79h0.7M304.91 93.58h0.7M310.79 85.41h0.7M307.78 86.14h0.7M306.70 98.38h0.7M309.48 94.25h0.7M306.07 90.31h0.7M300.33 100.05h0.7M308.53 86.15h0.7M310.97 88.71h0.7M305.90 89.02h0.7M309.17 86.50h0.7M301.27 90.48h0.7M310.42 92.81h0.7M303.38 92.16h0.7M300.38 97.23h0.7M310.57 86.09h0.7M311.93 89.58h0.7M301.49 94.21h0.7M309.27 86.94h0.7M301.91 96.27h0.7M311.15 90.71h0.7M303.55 95.87h0.7M303.25 82.90h0.7M310.24 86.73h0.7M301.78 101.35h0.7M309.49 89.00h0.7M319.18 79.40h0.7M302.24 95.98h0.7M316.71 83.15h0.7M314.30 82.55h0.7M311.34 83.83h0.7M307.67 93.09h0.7M307.79 92.76h0.7M306.88 92.15h0.7M317.51 80.38h0.7M309.79 82.83h0.7M306.24 95.72h0.7M298.81 98.68h0.7M308.21 95.08h0.7M298.66 98.54h0.7M307.22 90.92h0.7M301.00 100.65h0.7M312.65 89.38h0.7M310.95 88.81h0.7M304.92 91.50h0.7M302.02 97.75h0.7M303.25 98.92h0.7M308.06 86.92h0.7M303.91 86.43h0.7M300.66 94.91h0.7M299.24 97.31h0.7M304.07 90.35h0.7M300.30 92.93h0.7M300.10 99.84h0.7M307.73 95.62h0.7M300.47 95.99h0.7M312.72 89.81h0.7M312.99 87.04h0.7M301.17 98.82h0.7M312.96 78.69h0.7M313.36 93.38h0.7M302.23 96.93h0.7M316.81 81.13h0.7M309.65 91.64h0.7M307.87 93.39h0.7M308.40 93.42h0.7M302.56 94.96h0.7M302.28 85.14h0.7M310.69 85.33h0.7M300.80 90.94h0.7M303.98 89.06h0.7M313.13 90.21h0.7M303.03 91.55h0.7M305.58 90.75h0.7M305.07 84.33h0.7M309.35 87.86h0.7M300.60 90.42h0.7M313.19 87.72h0.7M309.93 90.48h0.7M311.27 86.62h0.7M308.95 84.74h0.7M306.26 82.36h0.7M315.03 86.96h0.7M311.25 83.33h0.7M307.17 93.36h0.7M303.86 95.86h0.7M310.57 94.42h0.7M303.52 91.93h0.7M311.90 89.54h0.7M302.05 89.20h0.7M298.13 94.95h0.7M304.96 87.95h0.7M303.46 87.46h0.7M307.02 93.37h0.7M304.08 98.36h0.7M305.24 88.65h0.7M305.25 92.28h0.7M301.79 93.95h0.7M303.90 85.40h0.7M319.55 78.59h0.7M316.44 87.35h0.7M310.45 86.77h0.7M307.98 92.52h0.7M312.64 82.02h0.7M315.08 80.92h0.7M304.76 98.56h0.7M306.35 94.88h0.7M301.99 98.78h0.7M307.64 95.72h0.7M298.68 97.99h0.7M302.89 96.20h0.7M301.65 95.26h0.7M305.85 89.76h0.7M308.44 90.42h0.7M300.91 100.37h0.7M300.31 95.07h0.7M314.31 80.86h0.7M308.16 93.10h0.7M303.63 93.82h0.7M305.15 91.74h0.7M303.36 98.62h0.7M308.58 91.87h0.7M305.66 89.13h0.7M311.24 83.57h0.7M310.33 84.42h0.7M303.80 94.63h0.7M318.99 79.37h0.7M308.60 90.97h0.7M311.75 83.94h0.7M297.98 97.93h0.7M304.95 89.25h0.7M309.46 95.33h0.7M304.25 90.63h0.7M310.18 93.12h0.7M315.97 82.57h0.7M304.62 91.08h0.7M300.59 95.53h0.7M312.45 86.75h0.7M306.29 86.95h0.7M304.98 89.44h0.7M314.19 82.81h0.7M306.49 91.13h0.7M307.22 90.85h0.7M305.12 94.02h0.7M309.47 92.22h0.7M310.92 89.10h0.7M304.75 93.28h0.7M298.23 98.16h0.7M299.29 87.52h0.7M314.07 85.94h0.7M313.30 94.70h0.7M299.88 98.87h0.7M306.45 88.97h0.7M315.64 84.25h0.7M307.38 86.41h0.7M308.38 89.47h0.7M306.57 85.34h0.7M304.50 97.92h0.7M307.21 90.07h0.7M300.04 84.74h0.7M311.71 81.26h0.7M302.27 97.93h0.7M315.22 85.14h0.7M302.70 91.54h0.7M310.44 87.77h0.7M301.17 100.81h0.7M299.91 99.67h0.7M310.19 90.39h0.7M309.55 91.91h0.7M306.51 87.31h0.7M307.41 96.69h0.7M300.34 100.05h0.7M300.24 90.12h0.7M304.02 96.03h0.7M300.60 100.29h0.7M312.26 83.62h0.7M305.51 92.57h0.7M309.41 84.38h0.7M305.63 93.88h0.7M300.51 98.92h0.7M308.80 92.76h0.7M301.68 96.44h0.7M308.99 88.70h0.7M304.30 98.22h0.7M306.97 91.49h0.7M308.99 91.81h0.7M305.88 88.67h0.7M310.93 86.13h0.7M308.08 90.47h0.7M301.79 96.87h0.7M305.44 86.17h0.7M305.58 91.98h0.7M309.81 86.45h0.7M309.02 91.53h0.7M300.09 95.70h0.7M307.60 93.73h0.7M313.66 83.71h0.7M305.48 90.04h0.7M311.63 93.56h0.7M305.32 90.03h0.7M314.51 82.18h0.7M304.18 89.51h0.7M311.84 84.73h0.7M307.59 87.85h0.7M310.49 89.02h0.7M316.31 84.39h0.7M301.57 95.68h0.7M305.45 96.35h0.7M301.34 99.10h0.7M300.79 100.46h0.7M309.99 82.26h0.7M305.79 89.19h0.7M300.64 100.33h0.7M305.74 96.72h0.7M313.10 91.56h0.7M307.03 94.76h0.7M307.21 88.80h0.7M312.25 85.15h0.7M305.53 93.27h0.7M302.92 99.13h0.7M313.18 80.08h0.7M306.91 89.17h0.7M305.73 95.92h0.7M315.66 81.99h0.7M310.14 95.99h0.7M303.88 90.80h0.7M306.61 95.54h0.7M307.86 90.57h0.7M305.10 94.52h0.7M311.38 94.70h0.7M304.52 88.50h0.7M315.44 82.14h0.7M308.23 91.74h0.7M302.24 85.67h0.7M310.15 93.56h0.7M310.23 84.54h0.7M306.88 93.35h0.7M317.37 80.13h0.7M307.09 88.12h0.7M304.15 91.46h0.7M304.83 88.49h0.7M302.52 90.09h0.7M313.56 85.60h0.7M305.81 90.84h0.7M311.21 86.83h0.7M298.54 87.20h0.7M300.30 100.02h0.7" stroke="#222" stroke-width="0.75" stroke-opacity="0.55" fill="none"/>
<rect x="217.40" y="103.15" width="26.60" height="30.05" fill="#f2c83e" stroke="none" stroke-width="0.5"/>
<text x="231.00" y="121.47" font-size="6.4" font-weight="bold" text-anchor="middle" fill="#000" stroke="#000" stroke-width="0.2" transform="translate(231.00 121.47) scale(1 1.12) translate(-231.00 -121.47)">0.877</text>
<rect x="244.00" y="103.15" width="26.60" height="30.05" fill="#edb43c" stroke="none" stroke-width="0.5"/>
<text x="257.60" y="121.47" font-size="6.4" font-weight="bold" text-anchor="middle" fill="#000" stroke="#000" stroke-width="0.2" transform="translate(257.60 121.47) scale(1 1.12) translate(-257.60 -121.47)">0.889</text>
<rect x="270.60" y="103.15" width="26.60" height="30.05" fill="#e8a040" stroke="none" stroke-width="0.5"/>
<text x="284.20" y="121.47" font-size="6.4" font-weight="bold" text-anchor="middle" fill="#000" stroke="#000" stroke-width="0.2" transform="translate(284.20 121.47) scale(1 1.12) translate(-284.20 -121.47)">0.903</text>
<rect x="297.20" y="103.15" width="26.60" height="30.05" fill="#fff" stroke="none" stroke-width="0.5"/>
<text x="310.50" y="121.27" font-size="6.3" font-weight="bold" text-anchor="middle" fill="#000" stroke="#000" stroke-width="0.2" transform="translate(310.50 121.27) scale(1 1.12) translate(-310.50 -121.27)">QC_4</text>
<line x1="217.40" y1="13.00" x2="217.40" y2="133.20" stroke="#333" stroke-width="0.6"/>
<line x1="244.00" y1="13.00" x2="244.00" y2="133.20" stroke="#333" stroke-width="0.6"/>
<line x1="270.60" y1="13.00" x2="270.60" y2="133.20" stroke="#333" stroke-width="0.6"/>
<line x1="297.20" y1="13.00" x2="297.20" y2="133.20" stroke="#333" stroke-width="0.6"/>
<line x1="323.80" y1="13.00" x2="323.80" y2="133.20" stroke="#333" stroke-width="0.6"/>
<line x1="217.40" y1="13.00" x2="323.80" y2="13.00" stroke="#333" stroke-width="0.6"/>
<line x1="217.40" y1="43.05" x2="323.80" y2="43.05" stroke="#333" stroke-width="0.6"/>
<line x1="217.40" y1="73.10" x2="323.80" y2="73.10" stroke="#333" stroke-width="0.6"/>
<line x1="217.40" y1="103.15" x2="323.80" y2="103.15" stroke="#333" stroke-width="0.6"/>
<line x1="217.40" y1="133.20" x2="323.80" y2="133.20" stroke="#333" stroke-width="0.6"/>
<text x="248.25" y="10.90" font-size="5.7" font-weight="bold" text-anchor="middle" fill="#000" stroke="#000" stroke-width="0.2" transform="translate(248.25 10.90) scale(1 1.12) translate(-248.25 -10.90)">15</text>
<text x="255.75" y="10.90" font-size="5.7" font-weight="bold" text-anchor="middle" fill="#000" stroke="#000" stroke-width="0.2" transform="translate(255.75 10.90) scale(1 1.12) translate(-255.75 -10.90)">20</text>
<text x="263.25" y="10.90" font-size="5.7" font-weight="bold" text-anchor="middle" fill="#000" stroke="#000" stroke-width="0.2" transform="translate(263.25 10.90) scale(1 1.12) translate(-263.25 -10.90)">25</text>
<text x="270.75" y="10.90" font-size="5.7" font-weight="bold" text-anchor="middle" fill="#000" stroke="#000" stroke-width="0.2" transform="translate(270.75 10.90) scale(1 1.12) translate(-270.75 -10.90)">30</text>
<text x="301.45" y="10.90" font-size="5.7" font-weight="bold" text-anchor="middle" fill="#000" stroke="#000" stroke-width="0.2" transform="translate(301.45 10.90) scale(1 1.12) translate(-301.45 -10.90)">15</text>
<text x="308.95" y="10.90" font-size="5.7" font-weight="bold" text-anchor="middle" fill="#000" stroke="#000" stroke-width="0.2" transform="translate(308.95 10.90) scale(1 1.12) translate(-308.95 -10.90)">20</text>
<text x="316.45" y="10.90" font-size="5.7" font-weight="bold" text-anchor="middle" fill="#000" stroke="#000" stroke-width="0.2" transform="translate(316.45 10.90) scale(1 1.12) translate(-316.45 -10.90)">25</text>
<text x="323.95" y="10.90" font-size="5.7" font-weight="bold" text-anchor="middle" fill="#000" stroke="#000" stroke-width="0.2" transform="translate(323.95 10.90) scale(1 1.12) translate(-323.95 -10.90)">30</text>
<text x="221.65" y="139.80" font-size="5.7" font-weight="bold" text-anchor="middle" fill="#000" stroke="#000" stroke-width="0.2" transform="translate(221.65 139.80) scale(1 1.12) translate(-221.65 -139.80)">15</text>
<text x="229.15" y="139.80" font-size="5.7" font-weight="bold" text-anchor="middle" fill="#000" stroke="#000" stroke-width="0.2" transform="translate(229.15 139.80) scale(1 1.12) translate(-229.15 -139.80)">20</text>
<text x="236.65" y="139.80" font-size="5.7" font-weight="bold" text-anchor="middle" fill="#000" stroke="#000" stroke-width="0.2" transform="translate(236.65 139.80) scale(1 1.12) translate(-236.65 -139.80)">25</text>
<text x="244.15" y="139.80" font-size="5.7" font-weight="bold" text-anchor="middle" fill="#000" stroke="#000" stroke-width="0.2" transform="translate(244.15 139.80) scale(1 1.12) translate(-244.15 -139.80)">30</text>
<text x="274.85" y="139.80" font-size="5.7" font-weight="bold" text-anchor="middle" fill="#000" stroke="#000" stroke-width="0.2" transform="translate(274.85 139.80) scale(1 1.12) translate(-274.85 -139.80)">15</text>
<text x="282.35" y="139.80" font-size="5.7" font-weight="bold" text-anchor="middle" fill="#000" stroke="#000" stroke-width="0.2" transform="translate(282.35 139.80) scale(1 1.12) translate(-282.35 -139.80)">20</text>
<text x="289.85" y="139.80" font-size="5.7" font-weight="bold" text-anchor="middle" fill="#000" stroke="#000" stroke-width="0.2" transform="translate(289.85 139.80) scale(1 1.12) translate(-289.85 -139.80)">25</text>
<text x="297.35" y="139.80" font-size="5.7" font-weight="bold" text-anchor="middle" fill="#000" stroke="#000" stroke-width="0.2" transform="translate(297.35 139.80) scale(1 1.12) translate(-297.35 -139.80)">30</text>
<text x="214.00" y="68.10" font-size="5.7" font-weight="bold" text-anchor="middle" fill="#000" stroke="#000" stroke-width="0.2" transform="rotate(-90 214.00 68.10)">15</text>
<text x="214.00" y="60.40" font-size="5.7" font-weight="bold" text-anchor="middle" fill="#000" stroke="#000" stroke-width="0.2" transform="rotate(-90 214.00 60.40)">20</text>
<text x="214.00" y="52.70" font-size="5.7" font-weight="bold" text-anchor="middle" fill="#000" stroke="#000" stroke-width="0.2" transform="rotate(-90 214.00 52.70)">25</text>
<text x="214.00" y="45.00" font-size="5.7" font-weight="bold" text-anchor="middle" fill="#000" stroke="#000" stroke-width="0.2" transform="rotate(-90 214.00 45.00)">30</text>
<text x="214.00" y="128.20" font-size="5.7" font-weight="bold" text-anchor="middle" fill="#000" stroke="#000" stroke-width="0.2" transform="rotate(-90 214.00 128.20)">15</text>
<text x="214.00" y="120.50" font-size="5.7" font-weight="bold" text-anchor="middle" fill="#000" stroke="#000" stroke-width="0.2" transform="rotate(-90 214.00 120.50)">20</text>
<text x="214.00" y="112.80" font-size="5.7" font-weight="bold" text-anchor="middle" fill="#000" stroke="#000" stroke-width="0.2" transform="rotate(-90 214.00 112.80)">25</text>
<text x="214.00" y="105.10" font-size="5.7" font-weight="bold" text-anchor="middle" fill="#000" stroke="#000" stroke-width="0.2" transform="rotate(-90 214.00 105.10)">30</text>
<text x="331.60" y="38.05" font-size="5.7" font-weight="bold" text-anchor="middle" fill="#000" stroke="#000" stroke-width="0.2" transform="rotate(-90 331.60 38.05)">15</text>
<text x="331.60" y="30.35" font-size="5.7" font-weight="bold" text-anchor="middle" fill="#000" stroke="#000" stroke-width="0.2" transform="rotate(-90 331.60 30.35)">20</text>
<text x="331.60" y="22.65" font-size="5.7" font-weight="bold" text-anchor="middle" fill="#000" stroke="#000" stroke-width="0.2" transform="rotate(-90 331.60 22.65)">25</text>
<text x="331.60" y="14.95" font-size="5.7" font-weight="bold" text-anchor="middle" fill="#000" stroke="#000" stroke-width="0.2" transform="rotate(-90 331.60 14.95)">30</text>
<text x="331.60" y="98.15" font-size="5.7" font-weight="bold" text-anchor="middle" fill="#000" stroke="#000" stroke-width="0.2" transform="rotate(-90 331.60 98.15)">15</text>
<text x="331.60" y="90.45" font-size="5.7" font-weight="bold" text-anchor="middle" fill="#000" stroke="#000" stroke-width="0.2" transform="rotate(-90 331.60 90.45)">20</text>
<text x="331.60" y="82.75" font-size="5.7" font-weight="bold" text-anchor="middle" fill="#000" stroke="#000" stroke-width="0.2" transform="rotate(-90 331.60 82.75)">25</text>
<text x="331.60" y="75.05" font-size="5.7" font-weight="bold" text-anchor="middle" fill="#000" stroke="#000" stroke-width="0.2" transform="rotate(-90 331.60 75.05)">30</text>
<defs><linearGradient id="cb" x1="0" y1="1" x2="0" y2="0"><stop offset="0" stop-color="#1aa84a"/><stop offset="0.1667" stop-color="#6ebe40"/><stop offset="0.3333" stop-color="#b4d040"/><stop offset="0.5" stop-color="#f5dc30"/><stop offset="0.6667" stop-color="#f0a030"/><stop offset="0.8333" stop-color="#e8603a"/><stop offset="1" stop-color="#d7262b"/></linearGradient></defs>
<rect x="335.20" y="12.10" width="4.40" height="120.60" fill="url(#cb)" stroke="none" stroke-width="0.5"/>
<text x="344.60" y="17.60" font-size="6.1" font-weight="bold" text-anchor="start" fill="#000" stroke="#000" stroke-width="0.2" transform="translate(344.60 17.60) scale(1 1.12) translate(-344.60 -17.60)">1.00</text>
<text x="344.60" y="34.90" font-size="6.1" font-weight="bold" text-anchor="start" fill="#000" stroke="#000" stroke-width="0.2" transform="translate(344.60 34.90) scale(1 1.12) translate(-344.60 -34.90)">0.95</text>
<text x="344.60" y="54.90" font-size="6.1" font-weight="bold" text-anchor="start" fill="#000" stroke="#000" stroke-width="0.2" transform="translate(344.60 54.90) scale(1 1.12) translate(-344.60 -54.90)">0.90</text>
<text x="344.60" y="74.90" font-size="6.1" font-weight="bold" text-anchor="start" fill="#000" stroke="#000" stroke-width="0.2" transform="translate(344.60 74.90) scale(1 1.12) translate(-344.60 -74.90)">0.85</text>
<text x="344.60" y="94.90" font-size="6.1" font-weight="bold" text-anchor="start" fill="#000" stroke="#000" stroke-width="0.2" transform="translate(344.60 94.90) scale(1 1.12) translate(-344.60 -94.90)">0.80</text>
<text x="344.60" y="114.90" font-size="6.1" font-weight="bold" text-anchor="start" fill="#000" stroke="#000" stroke-width="0.2" transform="translate(344.60 114.90) scale(1 1.12) translate(-344.60 -114.90)">0.75</text>
<text x="344.60" y="134.00" font-size="6.1" font-weight="bold" text-anchor="start" fill="#000" stroke="#000" stroke-width="0.2" transform="translate(344.60 134.00) scale(1 1.12) translate(-344.60 -134.00)">0.70</text>
<text x="5.00" y="141.00" font-size="9" font-weight="bold" text-anchor="start" fill="#000" stroke="#000" stroke-width="0.22" transform="translate(5.00 141.00) scale(1 1.12) translate(-5.00 -141.00)">C</text>
<line x1="33.08" y1="226.02" x2="26.88" y2="154.30" stroke="#a8a8a8" stroke-width="0.55" stroke-dasharray="1.0 0.6"/>
<line x1="33.08" y1="226.02" x2="80.90" y2="267.35" stroke="#a8a8a8" stroke-width="0.55" stroke-dasharray="1.0 0.6"/>
<line x1="45.07" y1="219.03" x2="40.56" y2="150.20" stroke="#a8a8a8" stroke-width="0.55" stroke-dasharray="1.0 0.6"/>
<line x1="45.07" y1="219.03" x2="92.86" y2="256.44" stroke="#a8a8a8" stroke-width="0.55" stroke-dasharray="1.0 0.6"/>
<line x1="55.99" y1="212.65" x2="52.90" y2="146.51" stroke="#a8a8a8" stroke-width="0.55" stroke-dasharray="1.0 0.6"/>
<line x1="55.99" y1="212.65" x2="103.53" y2="246.70" stroke="#a8a8a8" stroke-width="0.55" stroke-dasharray="1.0 0.6"/>
<line x1="65.99" y1="206.82" x2="64.09" y2="143.16" stroke="#a8a8a8" stroke-width="0.55" stroke-dasharray="1.0 0.6"/>
<line x1="65.99" y1="206.82" x2="113.11" y2="237.96" stroke="#a8a8a8" stroke-width="0.55" stroke-dasharray="1.0 0.6"/>
<line x1="83.63" y1="196.51" x2="83.59" y2="137.33" stroke="#a8a8a8" stroke-width="0.55" stroke-dasharray="1.0 0.6"/>
<line x1="83.63" y1="196.51" x2="129.63" y2="222.90" stroke="#a8a8a8" stroke-width="0.55" stroke-dasharray="1.0 0.6"/>
<line x1="91.46" y1="191.94" x2="92.13" y2="134.77" stroke="#a8a8a8" stroke-width="0.55" stroke-dasharray="1.0 0.6"/>
<line x1="91.46" y1="191.94" x2="136.79" y2="216.36" stroke="#a8a8a8" stroke-width="0.55" stroke-dasharray="1.0 0.6"/>
<line x1="33.08" y1="226.02" x2="92.44" y2="191.37" stroke="#a8a8a8" stroke-width="0.55" stroke-dasharray="1.0 0.6"/>
<line x1="92.44" y1="191.37" x2="137.67" y2="215.56" stroke="#a8a8a8" stroke-width="0.55" stroke-dasharray="1.0 0.6"/>
<line x1="32.22" y1="216.08" x2="92.54" y2="183.30" stroke="#a8a8a8" stroke-width="0.55" stroke-dasharray="1.0 0.6"/>
<line x1="92.54" y1="183.30" x2="138.49" y2="206.42" stroke="#a8a8a8" stroke-width="0.55" stroke-dasharray="1.0 0.6"/>
<line x1="31.33" y1="205.80" x2="92.65" y2="175.00" stroke="#a8a8a8" stroke-width="0.55" stroke-dasharray="1.0 0.6"/>
<line x1="92.65" y1="175.00" x2="139.33" y2="197.01" stroke="#a8a8a8" stroke-width="0.55" stroke-dasharray="1.0 0.6"/>
<line x1="29.46" y1="184.13" x2="92.88" y2="157.75" stroke="#a8a8a8" stroke-width="0.55" stroke-dasharray="1.0 0.6"/>
<line x1="92.88" y1="157.75" x2="141.09" y2="177.27" stroke="#a8a8a8" stroke-width="0.55" stroke-dasharray="1.0 0.6"/>
<line x1="28.47" y1="172.71" x2="93.00" y2="148.77" stroke="#a8a8a8" stroke-width="0.55" stroke-dasharray="1.0 0.6"/>
<line x1="93.00" y1="148.77" x2="142.01" y2="166.92" stroke="#a8a8a8" stroke-width="0.55" stroke-dasharray="1.0 0.6"/>
<line x1="92.44" y1="191.37" x2="93.19" y2="134.45" stroke="#a8a8a8" stroke-width="0.55" stroke-dasharray="1.0 0.6"/>
<line x1="33.08" y1="226.02" x2="92.44" y2="191.37" stroke="#a8a8a8" stroke-width="0.55" stroke-dasharray="1.0 0.6"/>
<line x1="102.44" y1="196.72" x2="104.18" y2="137.92" stroke="#a8a8a8" stroke-width="0.55" stroke-dasharray="1.0 0.6"/>
<line x1="43.23" y1="234.79" x2="102.44" y2="196.72" stroke="#a8a8a8" stroke-width="0.55" stroke-dasharray="1.0 0.6"/>
<line x1="124.95" y1="208.76" x2="129.18" y2="145.80" stroke="#a8a8a8" stroke-width="0.55" stroke-dasharray="1.0 0.6"/>
<line x1="66.94" y1="255.28" x2="124.95" y2="208.76" stroke="#a8a8a8" stroke-width="0.55" stroke-dasharray="1.0 0.6"/>
<line x1="137.67" y1="215.56" x2="143.49" y2="150.32" stroke="#a8a8a8" stroke-width="0.55" stroke-dasharray="1.0 0.6"/>
<line x1="80.90" y1="267.35" x2="137.67" y2="215.56" stroke="#a8a8a8" stroke-width="0.55" stroke-dasharray="1.0 0.6"/>
<line x1="33.08" y1="226.02" x2="25.96" y2="230.18" stroke="#a8a8a8" stroke-width="0.55" stroke-dasharray="1.0 0.6"/>
<line x1="32.22" y1="216.08" x2="24.95" y2="220.03" stroke="#a8a8a8" stroke-width="0.55" stroke-dasharray="1.0 0.6"/>
<line x1="31.33" y1="205.80" x2="23.91" y2="209.52" stroke="#a8a8a8" stroke-width="0.55" stroke-dasharray="1.0 0.6"/>
<line x1="30.41" y1="195.15" x2="22.83" y2="198.64" stroke="#a8a8a8" stroke-width="0.55" stroke-dasharray="1.0 0.6"/>
<line x1="29.46" y1="184.13" x2="21.71" y2="187.36" stroke="#a8a8a8" stroke-width="0.55" stroke-dasharray="1.0 0.6"/>
<line x1="28.47" y1="172.71" x2="20.54" y2="175.65" stroke="#a8a8a8" stroke-width="0.55" stroke-dasharray="1.0 0.6"/>
<line x1="33.08" y1="226.02" x2="25.96" y2="230.18" stroke="#a8a8a8" stroke-width="0.55" stroke-dasharray="1.0 0.6"/>
<line x1="43.23" y1="234.79" x2="36.03" y2="239.42" stroke="#a8a8a8" stroke-width="0.55" stroke-dasharray="1.0 0.6"/>
<line x1="54.46" y1="244.49" x2="47.21" y2="249.67" stroke="#a8a8a8" stroke-width="0.55" stroke-dasharray="1.0 0.6"/>
<line x1="66.94" y1="255.28" x2="59.67" y2="261.11" stroke="#a8a8a8" stroke-width="0.55" stroke-dasharray="1.0 0.6"/>
<line x1="80.90" y1="267.35" x2="73.67" y2="273.94" stroke="#a8a8a8" stroke-width="0.55" stroke-dasharray="1.0 0.6"/>
<line x1="92.86" y1="256.44" x2="98.23" y2="260.65" stroke="#a8a8a8" stroke-width="0.55" stroke-dasharray="1.0 0.6"/>
<line x1="103.53" y1="246.70" x2="108.82" y2="250.49" stroke="#a8a8a8" stroke-width="0.55" stroke-dasharray="1.0 0.6"/>
<line x1="113.11" y1="237.96" x2="118.30" y2="241.39" stroke="#a8a8a8" stroke-width="0.55" stroke-dasharray="1.0 0.6"/>
<line x1="121.77" y1="230.06" x2="126.86" y2="233.19" stroke="#a8a8a8" stroke-width="0.55" stroke-dasharray="1.0 0.6"/>
<line x1="129.63" y1="222.90" x2="134.60" y2="225.75" stroke="#a8a8a8" stroke-width="0.55" stroke-dasharray="1.0 0.6"/>
<line x1="136.79" y1="216.36" x2="141.65" y2="218.99" stroke="#a8a8a8" stroke-width="0.55" stroke-dasharray="1.0 0.6"/>
<line x1="75.17" y1="201.45" x2="74.27" y2="140.11" stroke="#4a4a4a" stroke-width="0.8"/>
<line x1="30.41" y1="195.15" x2="92.77" y2="166.49" stroke="#4a4a4a" stroke-width="0.8"/>
<line x1="92.77" y1="166.49" x2="140.19" y2="187.29" stroke="#4a4a4a" stroke-width="0.8"/>
<line x1="113.25" y1="202.50" x2="116.13" y2="141.69" stroke="#4a4a4a" stroke-width="0.8"/>
<line x1="75.17" y1="201.45" x2="121.77" y2="230.06" stroke="#4a4a4a" stroke-width="0.8"/>
<line x1="54.46" y1="244.49" x2="113.25" y2="202.50" stroke="#4a4a4a" stroke-width="0.8"/>
<circle cx="77.90" cy="154.90" r="2.2" fill="#ee7a2e"/>
<circle cx="97.80" cy="150.30" r="2.2" fill="#ee7a2e"/>
<circle cx="93.20" cy="157.20" r="2.2" fill="#ee7a2e"/>
<circle cx="96.20" cy="174.50" r="2.2" fill="#72bd44"/>
<circle cx="98.80" cy="174.50" r="2.2" fill="#72bd44"/>
<circle cx="102.90" cy="172.80" r="2.2" fill="#ee7a2e"/>
<circle cx="125.00" cy="180.40" r="2.2" fill="#ee7a2e"/>
<circle cx="75.80" cy="184.20" r="2.2" fill="#1fa27c"/>
<circle cx="81.70" cy="188.10" r="2.2" fill="#5b3896"/>
<circle cx="65.60" cy="193.20" r="2.2" fill="#d8343c"/>
<circle cx="91.10" cy="181.70" r="2.2" fill="#1fa27c"/>
<circle cx="89.30" cy="186.80" r="2.2" fill="#72bd44"/>
<circle cx="95.70" cy="184.70" r="2.2" fill="#72bd44"/>
<circle cx="98.30" cy="183.00" r="2.2" fill="#1fa27c"/>
<circle cx="100.80" cy="185.50" r="2.2" fill="#d8343c"/>
<circle cx="103.90" cy="188.60" r="2.2" fill="#d8343c"/>
<circle cx="102.10" cy="193.20" r="2.2" fill="#5b3896"/>
<circle cx="109.20" cy="190.60" r="2.2" fill="#5b3896"/>
<circle cx="114.80" cy="189.80" r="2.2" fill="#5b3896"/>
<circle cx="125.80" cy="192.40" r="2.2" fill="#1fa27c"/>
<circle cx="129.60" cy="195.70" r="2.2" fill="#1fa27c"/>
<circle cx="127.60" cy="209.50" r="2.2" fill="#5b3896"/>
<circle cx="93.20" cy="203.10" r="2.2" fill="#d8343c"/>
<circle cx="46.50" cy="232.80" r="2.2" fill="#d8343c"/>
<circle cx="149.2" cy="171.00" r="2.5" fill="#5b3896"/>
<text x="155.60" y="173.00" font-size="5.6" font-weight="bold" text-anchor="start" fill="#000" stroke="#000" stroke-width="0.2" transform="translate(155.60 173.00) scale(1 1.12) translate(-155.60 -173.00)">FH</text>
<circle cx="149.2" cy="178.50" r="2.5" fill="#d8343c"/>
<text x="155.60" y="180.50" font-size="5.6" font-weight="bold" text-anchor="start" fill="#000" stroke="#000" stroke-width="0.2" transform="translate(155.60 180.50) scale(1 1.12) translate(-155.60 -180.50)">FL</text>
<circle cx="149.2" cy="186.00" r="2.5" fill="#ee7a2e"/>
<text x="155.60" y="188.00" font-size="5.6" font-weight="bold" text-anchor="start" fill="#000" stroke="#000" stroke-width="0.2" transform="translate(155.60 188.00) scale(1 1.12) translate(-155.60 -188.00)">LH</text>
<circle cx="149.2" cy="193.50" r="2.5" fill="#1fa27c"/>
<text x="155.60" y="195.50" font-size="5.6" font-weight="bold" text-anchor="start" fill="#000" stroke="#000" stroke-width="0.2" transform="translate(155.60 195.50) scale(1 1.12) translate(-155.60 -195.50)">LL</text>
<circle cx="149.2" cy="201.00" r="2.5" fill="#72bd44"/>
<text x="155.60" y="203.00" font-size="5.6" font-weight="bold" text-anchor="start" fill="#000" stroke="#000" stroke-width="0.2" transform="translate(155.60 203.00) scale(1 1.12) translate(-155.60 -203.00)">QC</text>
<text x="17.00" y="173.10" font-size="6.2" font-weight="bold" text-anchor="middle" fill="#000" stroke="#000" stroke-width="0.2" transform="rotate(-28 17.00 173.10)">20</text>
<text x="18.20" y="187.10" font-size="6.2" font-weight="bold" text-anchor="middle" fill="#000" stroke="#000" stroke-width="0.2" transform="rotate(-28 18.20 187.10)">10</text>
<text x="21.40" y="199.80" font-size="6.2" font-weight="bold" text-anchor="middle" fill="#000" stroke="#000" stroke-width="0.2" transform="rotate(-28 21.40 199.80)">0</text>
<text x="25.00" y="210.50" font-size="6.2" font-weight="bold" text-anchor="middle" fill="#000" stroke="#000" stroke-width="0.2" transform="rotate(-28 25.00 210.50)">−10</text>
<text x="28.60" y="220.30" font-size="6.2" font-weight="bold" text-anchor="middle" fill="#000" stroke="#000" stroke-width="0.2" transform="rotate(-28 28.60 220.30)">−20</text>
<text x="32.10" y="228.50" font-size="6.2" font-weight="bold" text-anchor="middle" fill="#000" stroke="#000" stroke-width="0.2" transform="rotate(-28 32.10 228.50)">−30</text>
<text x="34.20" y="235.70" font-size="6.0" font-weight="bold" text-anchor="middle" fill="#000" stroke="#000" stroke-width="0.2" transform="rotate(-40 34.20 235.70)">−20</text>
<text x="42.30" y="243.80" font-size="6.0" font-weight="bold" text-anchor="middle" fill="#000" stroke="#000" stroke-width="0.2" transform="rotate(-40 42.30 243.80)">−10</text>
<text x="49.10" y="250.00" font-size="6.0" font-weight="bold" text-anchor="middle" fill="#000" stroke="#000" stroke-width="0.2" transform="rotate(-40 49.10 250.00)">0</text>
<text x="59.70" y="257.10" font-size="6.0" font-weight="bold" text-anchor="middle" fill="#000" stroke="#000" stroke-width="0.2" transform="rotate(-40 59.70 257.10)">10</text>
<text x="69.90" y="266.30" font-size="6.0" font-weight="bold" text-anchor="middle" fill="#000" stroke="#000" stroke-width="0.2" transform="rotate(-40 69.90 266.30)">20</text>
<text x="99.30" y="260.00" font-size="6.0" font-weight="bold" text-anchor="middle" fill="#000" stroke="#000" stroke-width="0.2" transform="rotate(45 99.30 260.00)">30</text>
<text x="109.90" y="252.40" font-size="6.0" font-weight="bold" text-anchor="middle" fill="#000" stroke="#000" stroke-width="0.2" transform="rotate(45 109.90 252.40)">20</text>
<text x="119.40" y="243.80" font-size="6.0" font-weight="bold" text-anchor="middle" fill="#000" stroke="#000" stroke-width="0.2" transform="rotate(45 119.40 243.80)">10</text>
<text x="128.00" y="237.10" font-size="6.0" font-weight="bold" text-anchor="middle" fill="#000" stroke="#000" stroke-width="0.2" transform="rotate(45 128.00 237.10)">0</text>
<text x="135.70" y="231.30" font-size="6.0" font-weight="bold" text-anchor="middle" fill="#000" stroke="#000" stroke-width="0.2" transform="rotate(45 135.70 231.30)">−10</text>
<text x="141.40" y="225.60" font-size="6.0" font-weight="bold" text-anchor="middle" fill="#000" stroke="#000" stroke-width="0.2" transform="rotate(45 141.40 225.60)">−20</text>
<text x="12.00" y="211.50" font-size="8.4" font-weight="bold" text-anchor="middle" fill="#000" stroke="#000" stroke-width="0.22" transform="rotate(60 12.00 211.50)">PC3</text>
<text x="39.80" y="256.00" font-size="8.6" font-weight="bold" text-anchor="middle" fill="#000" stroke="#000" stroke-width="0.22" transform="rotate(47 39.80 256.00)">PC2</text>
<text x="131.50" y="247.50" font-size="8.6" font-weight="bold" text-anchor="middle" fill="#000" stroke="#000" stroke-width="0.22" transform="rotate(-50 131.50 247.50)">PC1</text>
<text x="172.20" y="140.60" font-size="9" font-weight="bold" text-anchor="start" fill="#000" stroke="#000" stroke-width="0.22" transform="translate(172.20 140.60) scale(1 1.12) translate(-172.20 -140.60)">D</text>
<rect x="187.40" y="152.00" width="195.60" height="101.30" fill="#fff" stroke="#333" stroke-width="0.8"/>
<rect x="204.85" y="252.00" width="2.30" height="1.20" fill="#bd6356" stroke="#6a3028" stroke-width="0.35"/>
<rect x="207.15" y="251.77" width="2.30" height="1.43" fill="#bd6356" stroke="#6a3028" stroke-width="0.35"/>
<rect x="209.45" y="251.56" width="2.30" height="1.64" fill="#bd6356" stroke="#6a3028" stroke-width="0.35"/>
<rect x="211.75" y="251.41" width="2.30" height="1.79" fill="#bd6356" stroke="#6a3028" stroke-width="0.35"/>
<rect x="214.05" y="251.25" width="2.30" height="1.95" fill="#bd6356" stroke="#6a3028" stroke-width="0.35"/>
<rect x="216.35" y="250.85" width="2.30" height="2.35" fill="#bd6356" stroke="#6a3028" stroke-width="0.35"/>
<rect x="218.65" y="250.31" width="2.30" height="2.89" fill="#bd6356" stroke="#6a3028" stroke-width="0.35"/>
<rect x="220.95" y="249.78" width="2.30" height="3.41" fill="#bd6356" stroke="#6a3028" stroke-width="0.35"/>
<rect x="223.25" y="249.44" width="2.30" height="3.76" fill="#bd6356" stroke="#6a3028" stroke-width="0.35"/>
<rect x="225.55" y="249.09" width="2.30" height="4.10" fill="#bd6356" stroke="#6a3028" stroke-width="0.35"/>
<rect x="227.85" y="248.60" width="2.30" height="4.60" fill="#bd6356" stroke="#6a3028" stroke-width="0.35"/>
<rect x="230.15" y="247.91" width="2.30" height="5.29" fill="#bd6356" stroke="#6a3028" stroke-width="0.35"/>
<rect x="232.45" y="247.33" width="2.30" height="5.87" fill="#bd6356" stroke="#6a3028" stroke-width="0.35"/>
<rect x="234.75" y="247.07" width="2.30" height="6.13" fill="#bd6356" stroke="#6a3028" stroke-width="0.35"/>
<rect x="237.05" y="244.96" width="2.30" height="8.24" fill="#bd6356" stroke="#6a3028" stroke-width="0.35"/>
<rect x="239.35" y="242.43" width="2.30" height="10.77" fill="#bd6356" stroke="#6a3028" stroke-width="0.35"/>
<rect x="241.65" y="240.19" width="2.30" height="13.01" fill="#bd6356" stroke="#6a3028" stroke-width="0.35"/>
<rect x="243.95" y="237.24" width="2.30" height="15.96" fill="#bd6356" stroke="#6a3028" stroke-width="0.35"/>
<rect x="246.25" y="234.86" width="2.30" height="18.34" fill="#bd6356" stroke="#6a3028" stroke-width="0.35"/>
<rect x="249.05" y="252.30" width="1.30" height="0.90" fill="#bd6356" stroke="#6a3028" stroke-width="0.35"/>
<rect x="249.85" y="233.90" width="2.30" height="19.30" fill="#bd6356" stroke="#6a3028" stroke-width="0.35"/>
<rect x="252.75" y="235.80" width="2.30" height="17.40" fill="#bd6356" stroke="#6a3028" stroke-width="0.35"/>
<rect x="255.05" y="229.20" width="2.30" height="24.00" fill="#bd6356" stroke="#6a3028" stroke-width="0.35"/>
<rect x="257.40" y="226.60" width="2.20" height="26.60" fill="#bd6356" stroke="#6a3028" stroke-width="0.35"/>
<rect x="259.55" y="221.80" width="2.30" height="31.40" fill="#bd6356" stroke="#6a3028" stroke-width="0.35"/>
<rect x="262.10" y="219.90" width="2.20" height="33.30" fill="#bd6356" stroke="#6a3028" stroke-width="0.35"/>
<rect x="264.25" y="224.30" width="2.30" height="28.90" fill="#bd6356" stroke="#6a3028" stroke-width="0.35"/>
<rect x="266.55" y="223.30" width="2.30" height="29.90" fill="#bd6356" stroke="#6a3028" stroke-width="0.35"/>
<rect x="269.10" y="215.20" width="2.20" height="38.00" fill="#bd6356" stroke="#6a3028" stroke-width="0.35"/>
<rect x="271.25" y="210.90" width="2.30" height="42.30" fill="#bd6356" stroke="#6a3028" stroke-width="0.35"/>
<rect x="273.55" y="208.40" width="2.30" height="44.80" fill="#bd6356" stroke="#6a3028" stroke-width="0.35"/>
<rect x="276.10" y="208.00" width="2.20" height="45.20" fill="#bd6356" stroke="#6a3028" stroke-width="0.35"/>
<rect x="278.25" y="207.80" width="2.30" height="45.40" fill="#bd6356" stroke="#6a3028" stroke-width="0.35"/>
<rect x="280.60" y="213.50" width="2.20" height="39.70" fill="#bd6356" stroke="#6a3028" stroke-width="0.35"/>
<rect x="282.75" y="206.70" width="2.30" height="46.50" fill="#bd6356" stroke="#6a3028" stroke-width="0.35"/>
<rect x="285.05" y="210.30" width="2.30" height="42.90" fill="#bd6356" stroke="#6a3028" stroke-width="0.35"/>
<rect x="287.60" y="207.10" width="2.20" height="46.10" fill="#bd6356" stroke="#6a3028" stroke-width="0.35"/>
<rect x="289.75" y="214.10" width="2.30" height="39.10" fill="#bd6356" stroke="#6a3028" stroke-width="0.35"/>
<rect x="292.05" y="212.20" width="2.30" height="41.00" fill="#bd6356" stroke="#6a3028" stroke-width="0.35"/>
<rect x="294.55" y="230.50" width="2.30" height="22.70" fill="#bd6356" stroke="#6a3028" stroke-width="0.35"/>
<rect x="297.25" y="229.40" width="2.10" height="23.80" fill="#bd6356" stroke="#6a3028" stroke-width="0.35"/>
<rect x="299.25" y="233.20" width="2.30" height="20.00" fill="#bd6356" stroke="#6a3028" stroke-width="0.35"/>
<rect x="301.55" y="234.20" width="2.30" height="19.00" fill="#bd6356" stroke="#6a3028" stroke-width="0.35"/>
<rect x="303.85" y="247.00" width="2.30" height="6.20" fill="#bd6356" stroke="#6a3028" stroke-width="0.35"/>
<rect x="306.35" y="240.00" width="2.30" height="13.20" fill="#bd6356" stroke="#6a3028" stroke-width="0.35"/>
<rect x="308.85" y="242.00" width="2.30" height="11.20" fill="#bd6356" stroke="#6a3028" stroke-width="0.35"/>
<rect x="311.35" y="248.00" width="2.30" height="5.20" fill="#bd6356" stroke="#6a3028" stroke-width="0.35"/>
<rect x="313.85" y="249.80" width="2.30" height="3.40" fill="#bd6356" stroke="#6a3028" stroke-width="0.35"/>
<rect x="316.85" y="251.00" width="2.30" height="2.20" fill="#bd6356" stroke="#6a3028" stroke-width="0.35"/>
<rect x="319.85" y="251.60" width="2.30" height="1.60" fill="#bd6356" stroke="#6a3028" stroke-width="0.35"/>
<rect x="379.10" y="235.90" width="2.30" height="17.30" fill="#cfcfcf" stroke="#555555" stroke-width="0.4" fill-opacity="0.75"/>
<rect x="376.80" y="189.20" width="2.30" height="64.00" fill="#cfcfcf" stroke="#555555" stroke-width="0.4" fill-opacity="0.75"/>
<rect x="374.50" y="167.40" width="2.30" height="85.80" fill="#cfcfcf" stroke="#555555" stroke-width="0.4" fill-opacity="0.75"/>
<rect x="372.20" y="193.20" width="2.30" height="60.00" fill="#cfcfcf" stroke="#555555" stroke-width="0.4" fill-opacity="0.75"/>
<rect x="369.90" y="203.20" width="2.30" height="50.00" fill="#cfcfcf" stroke="#555555" stroke-width="0.4" fill-opacity="0.75"/>
<rect x="367.60" y="214.10" width="2.30" height="39.10" fill="#cfcfcf" stroke="#555555" stroke-width="0.4" fill-opacity="0.75"/>
<rect x="365.30" y="220.10" width="2.30" height="33.10" fill="#cfcfcf" stroke="#555555" stroke-width="0.4" fill-opacity="0.75"/>
<rect x="363.00" y="223.20" width="2.30" height="30.00" fill="#cfcfcf" stroke="#555555" stroke-width="0.4" fill-opacity="0.75"/>
<rect x="360.70" y="231.00" width="2.30" height="22.20" fill="#cfcfcf" stroke="#555555" stroke-width="0.4" fill-opacity="0.75"/>
<rect x="358.40" y="231.00" width="2.30" height="22.20" fill="#cfcfcf" stroke="#555555" stroke-width="0.4" fill-opacity="0.75"/>
<rect x="356.10" y="230.50" width="2.30" height="22.70" fill="#cfcfcf" stroke="#555555" stroke-width="0.4" fill-opacity="0.75"/>
<rect x="353.80" y="234.10" width="2.30" height="19.10" fill="#cfcfcf" stroke="#555555" stroke-width="0.4" fill-opacity="0.75"/>
<rect x="351.50" y="235.40" width="2.30" height="17.80" fill="#cfcfcf" stroke="#555555" stroke-width="0.4" fill-opacity="0.75"/>
<rect x="349.20" y="233.20" width="2.30" height="20.00" fill="#cfcfcf" stroke="#555555" stroke-width="0.4" fill-opacity="0.75"/>
<rect x="346.90" y="236.80" width="2.30" height="16.40" fill="#cfcfcf" stroke="#555555" stroke-width="0.4" fill-opacity="0.75"/>
<rect x="344.60" y="238.60" width="2.30" height="14.60" fill="#cfcfcf" stroke="#555555" stroke-width="0.4" fill-opacity="0.75"/>
<rect x="342.30" y="238.60" width="2.30" height="14.60" fill="#cfcfcf" stroke="#555555" stroke-width="0.4" fill-opacity="0.75"/>
<rect x="340.00" y="238.60" width="2.30" height="14.60" fill="#cfcfcf" stroke="#555555" stroke-width="0.4" fill-opacity="0.75"/>
<rect x="337.70" y="238.60" width="2.30" height="14.60" fill="#cfcfcf" stroke="#555555" stroke-width="0.4" fill-opacity="0.75"/>
<rect x="335.40" y="240.50" width="2.30" height="12.70" fill="#cfcfcf" stroke="#555555" stroke-width="0.4" fill-opacity="0.75"/>
<rect x="333.10" y="240.50" width="2.30" height="12.70" fill="#cfcfcf" stroke="#555555" stroke-width="0.4" fill-opacity="0.75"/>
<rect x="330.80" y="240.50" width="2.30" height="12.70" fill="#cfcfcf" stroke="#555555" stroke-width="0.4" fill-opacity="0.75"/>
<rect x="328.50" y="242.30" width="2.30" height="10.90" fill="#cfcfcf" stroke="#555555" stroke-width="0.4" fill-opacity="0.75"/>
<rect x="326.20" y="243.20" width="2.30" height="10.00" fill="#cfcfcf" stroke="#555555" stroke-width="0.4" fill-opacity="0.75"/>
<rect x="323.90" y="243.70" width="2.30" height="9.50" fill="#cfcfcf" stroke="#555555" stroke-width="0.4" fill-opacity="0.75"/>
<rect x="321.60" y="243.50" width="2.30" height="9.70" fill="#cfcfcf" stroke="#555555" stroke-width="0.4" fill-opacity="0.75"/>
<rect x="319.30" y="244.00" width="2.30" height="9.20" fill="#cfcfcf" stroke="#555555" stroke-width="0.4" fill-opacity="0.75"/>
<rect x="317.00" y="244.30" width="2.30" height="8.90" fill="#cfcfcf" stroke="#555555" stroke-width="0.4" fill-opacity="0.75"/>
<rect x="314.70" y="243.00" width="2.30" height="10.20" fill="#cfcfcf" stroke="#555555" stroke-width="0.4" fill-opacity="0.75"/>
<rect x="312.40" y="243.80" width="2.30" height="9.40" fill="#cfcfcf" stroke="#555555" stroke-width="0.4" fill-opacity="0.75"/>
<rect x="310.10" y="242.50" width="2.30" height="10.70" fill="#cfcfcf" stroke="#555555" stroke-width="0.4" fill-opacity="0.75"/>
<rect x="307.80" y="242.90" width="2.30" height="10.30" fill="#cfcfcf" stroke="#555555" stroke-width="0.4" fill-opacity="0.75"/>
<rect x="305.50" y="243.90" width="2.30" height="9.30" fill="#cfcfcf" stroke="#555555" stroke-width="0.4" fill-opacity="0.75"/>
<rect x="303.20" y="244.20" width="2.30" height="9.00" fill="#cfcfcf" stroke="#555555" stroke-width="0.4" fill-opacity="0.75"/>
<rect x="300.90" y="242.90" width="2.30" height="10.30" fill="#cfcfcf" stroke="#555555" stroke-width="0.4" fill-opacity="0.75"/>
<rect x="298.60" y="243.50" width="2.30" height="9.70" fill="#cfcfcf" stroke="#555555" stroke-width="0.4" fill-opacity="0.75"/>
<rect x="296.30" y="243.07" width="2.30" height="10.13" fill="#cfcfcf" stroke="#555555" stroke-width="0.4" fill-opacity="0.75"/>
<rect x="294.00" y="242.96" width="2.30" height="10.24" fill="#cfcfcf" stroke="#555555" stroke-width="0.4" fill-opacity="0.75"/>
<rect x="291.70" y="242.84" width="2.30" height="10.36" fill="#cfcfcf" stroke="#555555" stroke-width="0.4" fill-opacity="0.75"/>
<rect x="289.40" y="242.73" width="2.30" height="10.47" fill="#cfcfcf" stroke="#555555" stroke-width="0.4" fill-opacity="0.75"/>
<rect x="287.10" y="242.70" width="2.30" height="10.50" fill="#cfcfcf" stroke="#555555" stroke-width="0.4" fill-opacity="0.75"/>
<rect x="284.80" y="242.70" width="2.30" height="10.50" fill="#cfcfcf" stroke="#555555" stroke-width="0.4" fill-opacity="0.75"/>
<rect x="282.50" y="242.70" width="2.30" height="10.50" fill="#cfcfcf" stroke="#555555" stroke-width="0.4" fill-opacity="0.75"/>
<rect x="280.20" y="242.70" width="2.30" height="10.50" fill="#cfcfcf" stroke="#555555" stroke-width="0.4" fill-opacity="0.75"/>
<rect x="277.90" y="242.80" width="2.30" height="10.40" fill="#cfcfcf" stroke="#555555" stroke-width="0.4" fill-opacity="0.75"/>
<rect x="275.60" y="243.03" width="2.30" height="10.17" fill="#cfcfcf" stroke="#555555" stroke-width="0.4" fill-opacity="0.75"/>
<rect x="273.30" y="243.26" width="2.30" height="9.94" fill="#cfcfcf" stroke="#555555" stroke-width="0.4" fill-opacity="0.75"/>
<rect x="271.00" y="243.49" width="2.30" height="9.71" fill="#cfcfcf" stroke="#555555" stroke-width="0.4" fill-opacity="0.75"/>
<rect x="268.70" y="243.74" width="2.30" height="9.46" fill="#cfcfcf" stroke="#555555" stroke-width="0.4" fill-opacity="0.75"/>
<rect x="266.40" y="244.34" width="2.30" height="8.86" fill="#cfcfcf" stroke="#555555" stroke-width="0.4" fill-opacity="0.75"/>
<rect x="264.10" y="244.95" width="2.30" height="8.25" fill="#cfcfcf" stroke="#555555" stroke-width="0.4" fill-opacity="0.75"/>
<rect x="261.80" y="245.55" width="2.30" height="7.65" fill="#cfcfcf" stroke="#555555" stroke-width="0.4" fill-opacity="0.75"/>
<rect x="259.50" y="246.09" width="2.30" height="7.11" fill="#cfcfcf" stroke="#555555" stroke-width="0.4" fill-opacity="0.75"/>
<rect x="257.20" y="246.58" width="2.30" height="6.62" fill="#cfcfcf" stroke="#555555" stroke-width="0.4" fill-opacity="0.75"/>
<rect x="254.90" y="247.08" width="2.30" height="6.12" fill="#cfcfcf" stroke="#555555" stroke-width="0.4" fill-opacity="0.75"/>
<rect x="252.60" y="247.40" width="2.30" height="5.80" fill="#cfcfcf" stroke="#555555" stroke-width="0.4" fill-opacity="0.75"/>
<rect x="250.30" y="247.58" width="2.30" height="5.62" fill="#cfcfcf" stroke="#555555" stroke-width="0.4" fill-opacity="0.75"/>
<rect x="248.00" y="247.79" width="2.30" height="5.41" fill="#cfcfcf" stroke="#555555" stroke-width="0.4" fill-opacity="0.75"/>
<rect x="245.70" y="248.05" width="2.30" height="5.15" fill="#cfcfcf" stroke="#555555" stroke-width="0.4" fill-opacity="0.75"/>
<rect x="243.40" y="248.30" width="2.30" height="4.90" fill="#cfcfcf" stroke="#555555" stroke-width="0.4" fill-opacity="0.75"/>
<rect x="241.10" y="248.55" width="2.30" height="4.65" fill="#cfcfcf" stroke="#555555" stroke-width="0.4" fill-opacity="0.75"/>
<rect x="238.80" y="248.81" width="2.30" height="4.39" fill="#cfcfcf" stroke="#555555" stroke-width="0.4" fill-opacity="0.75"/>
<rect x="236.50" y="249.22" width="2.30" height="3.98" fill="#cfcfcf" stroke="#555555" stroke-width="0.4" fill-opacity="0.75"/>
<rect x="234.20" y="249.64" width="2.30" height="3.56" fill="#cfcfcf" stroke="#555555" stroke-width="0.4" fill-opacity="0.75"/>
<rect x="231.90" y="249.86" width="2.30" height="3.34" fill="#cfcfcf" stroke="#555555" stroke-width="0.4" fill-opacity="0.75"/>
<rect x="229.60" y="250.04" width="2.30" height="3.16" fill="#cfcfcf" stroke="#555555" stroke-width="0.4" fill-opacity="0.75"/>
<rect x="227.30" y="250.22" width="2.30" height="2.98" fill="#cfcfcf" stroke="#555555" stroke-width="0.4" fill-opacity="0.75"/>
<rect x="225.00" y="250.41" width="2.30" height="2.79" fill="#cfcfcf" stroke="#555555" stroke-width="0.4" fill-opacity="0.75"/>
<rect x="222.70" y="250.59" width="2.30" height="2.61" fill="#cfcfcf" stroke="#555555" stroke-width="0.4" fill-opacity="0.75"/>
<rect x="220.40" y="250.78" width="2.30" height="2.42" fill="#cfcfcf" stroke="#555555" stroke-width="0.4" fill-opacity="0.75"/>
<rect x="218.10" y="250.95" width="2.30" height="2.25" fill="#cfcfcf" stroke="#555555" stroke-width="0.4" fill-opacity="0.75"/>
<rect x="215.80" y="251.10" width="2.30" height="2.10" fill="#cfcfcf" stroke="#555555" stroke-width="0.4" fill-opacity="0.75"/>
<rect x="213.50" y="251.26" width="2.30" height="1.94" fill="#cfcfcf" stroke="#555555" stroke-width="0.4" fill-opacity="0.75"/>
<rect x="211.20" y="251.41" width="2.30" height="1.79" fill="#cfcfcf" stroke="#555555" stroke-width="0.4" fill-opacity="0.75"/>
<rect x="208.90" y="251.56" width="2.30" height="1.64" fill="#cfcfcf" stroke="#555555" stroke-width="0.4" fill-opacity="0.75"/>
<rect x="206.60" y="251.72" width="2.30" height="1.48" fill="#cfcfcf" stroke="#555555" stroke-width="0.4" fill-opacity="0.75"/>
<rect x="204.30" y="251.87" width="2.30" height="1.33" fill="#cfcfcf" stroke="#555555" stroke-width="0.4" fill-opacity="0.75"/>
<path d="M226.0 251.30 L235.0 250.20 L245.0 248.60 L255.0 247.00 L264.5 244.30 L272.0 241.00 L279.6 239.30 L286.0 239.60 L292.0 241.60 L297.5 245.20 L302.0 248.50 L310.0 251.00 L320.0 252.20" fill="none" stroke="#a0302a" stroke-width="0.7"/>
<line x1="301.20" y1="152.50" x2="301.20" y2="253.20" stroke="#aaa" stroke-width="0.6" stroke-dasharray="1.4 1.1"/>
<line x1="327.80" y1="152.50" x2="327.80" y2="253.20" stroke="#555" stroke-width="0.6" stroke-dasharray="1.4 1.1"/>
<text x="301.80" y="172.80" font-size="3.5" font-weight="bold" text-anchor="start" fill="#9a9a9a" stroke="#9a9a9a" stroke-width="0.2" transform="translate(301.80 172.80) scale(1 1.12) translate(-301.80 -172.80)">0.959 Cscore at 1% Qvalue</text>
<text x="328.20" y="182.60" font-size="3.55" font-weight="bold" text-anchor="start" fill="#000" stroke="#000" stroke-width="0.2" transform="translate(328.20 182.60) scale(1 1.12) translate(-328.20 -182.60)">1.024 Cscore at 1% Qvalue</text>
<rect x="187.40" y="143.90" width="121.00" height="7.60" fill="#fff" stroke="#333" stroke-width="0.5"/>
<line x1="188.40" y1="147.70" x2="190.60" y2="147.70" stroke="#222" stroke-width="0.7"/>
<text x="191.40" y="149.90" font-size="5.15" font-weight="bold" text-anchor="start" fill="#111" stroke="#111" stroke-width="0.2" transform="translate(191.40 149.90) scale(1 1.12) translate(-191.40 -149.90)">Target</text>
<line x1="210.60" y1="147.70" x2="213.20" y2="147.70" stroke="#a0302a" stroke-width="0.8"/>
<text x="214.00" y="149.90" font-size="5.3" font-weight="bold" text-anchor="start" fill="#111" stroke="#111" stroke-width="0.2" transform="translate(214.00 149.90) scale(1 1.12) translate(-214.00 -149.90)">Decoy</text>
<line x1="233.60" y1="147.70" x2="236.30" y2="147.70" stroke="#e09080" stroke-width="0.8"/>
<text x="237.20" y="149.90" font-size="5.33" font-weight="bold" text-anchor="start" fill="#111" stroke="#111" stroke-width="0.2" transform="translate(237.20 149.90) scale(1 1.12) translate(-237.20 -149.90)">Estimated Null Distribution</text>
<line x1="185.60" y1="252.30" x2="187.40" y2="252.30" stroke="#333" stroke-width="0.5"/>
<text x="184.60" y="254.30" font-size="5.9" font-weight="bold" text-anchor="end" fill="#000" stroke="#000" stroke-width="0.2" transform="translate(184.60 254.30) scale(1 1.12) translate(-184.60 -254.30)">0</text>
<line x1="185.60" y1="239.60" x2="187.40" y2="239.60" stroke="#333" stroke-width="0.5"/>
<text x="184.60" y="241.60" font-size="5.9" font-weight="bold" text-anchor="end" fill="#000" stroke="#000" stroke-width="0.2" transform="translate(184.60 241.60) scale(1 1.12) translate(-184.60 -241.60)">2</text>
<line x1="185.60" y1="228.40" x2="187.40" y2="228.40" stroke="#333" stroke-width="0.5"/>
<text x="184.60" y="230.40" font-size="5.9" font-weight="bold" text-anchor="end" fill="#000" stroke="#000" stroke-width="0.2" transform="translate(184.60 230.40) scale(1 1.12) translate(-184.60 -230.40)">4</text>
<line x1="185.60" y1="217.20" x2="187.40" y2="217.20" stroke="#333" stroke-width="0.5"/>
<text x="184.60" y="219.20" font-size="5.9" font-weight="bold" text-anchor="end" fill="#000" stroke="#000" stroke-width="0.2" transform="translate(184.60 219.20) scale(1 1.12) translate(-184.60 -219.20)">6</text>
<line x1="185.60" y1="206.00" x2="187.40" y2="206.00" stroke="#333" stroke-width="0.5"/>
<text x="184.60" y="208.00" font-size="5.9" font-weight="bold" text-anchor="end" fill="#000" stroke="#000" stroke-width="0.2" transform="translate(184.60 208.00) scale(1 1.12) translate(-184.60 -208.00)">8</text>
<line x1="185.60" y1="194.80" x2="187.40" y2="194.80" stroke="#333" stroke-width="0.5"/>
<text x="184.60" y="196.80" font-size="5.9" font-weight="bold" text-anchor="end" fill="#000" stroke="#000" stroke-width="0.2" transform="translate(184.60 196.80) scale(1 1.12) translate(-184.60 -196.80)">10</text>
<line x1="185.60" y1="183.60" x2="187.40" y2="183.60" stroke="#333" stroke-width="0.5"/>
<text x="184.60" y="185.60" font-size="5.9" font-weight="bold" text-anchor="end" fill="#000" stroke="#000" stroke-width="0.2" transform="translate(184.60 185.60) scale(1 1.12) translate(-184.60 -185.60)">12</text>
<line x1="185.60" y1="172.40" x2="187.40" y2="172.40" stroke="#333" stroke-width="0.5"/>
<text x="184.60" y="174.40" font-size="5.9" font-weight="bold" text-anchor="end" fill="#000" stroke="#000" stroke-width="0.2" transform="translate(184.60 174.40) scale(1 1.12) translate(-184.60 -174.40)">14</text>
<line x1="185.60" y1="161.20" x2="187.40" y2="161.20" stroke="#333" stroke-width="0.5"/>
<text x="184.60" y="163.20" font-size="5.9" font-weight="bold" text-anchor="end" fill="#000" stroke="#000" stroke-width="0.2" transform="translate(184.60 163.20) scale(1 1.12) translate(-184.60 -163.20)">16</text>
<line x1="185.60" y1="152.40" x2="187.40" y2="152.40" stroke="#333" stroke-width="0.5"/>
<text x="184.60" y="154.40" font-size="5.9" font-weight="bold" text-anchor="end" fill="#000" stroke="#000" stroke-width="0.2" transform="translate(184.60 154.40) scale(1 1.12) translate(-184.60 -154.40)">18</text>
<line x1="197.30" y1="251.20" x2="197.30" y2="254.60" stroke="#333" stroke-width="0.6"/>
<text x="197.30" y="259.20" font-size="5.9" font-weight="bold" text-anchor="middle" fill="#000" stroke="#000" stroke-width="0.2" transform="translate(197.30 259.20) scale(1 1.12) translate(-197.30 -259.20)">0.7</text>
<line x1="237.50" y1="251.20" x2="237.50" y2="254.60" stroke="#333" stroke-width="0.6"/>
<text x="237.50" y="259.20" font-size="5.9" font-weight="bold" text-anchor="middle" fill="#000" stroke="#000" stroke-width="0.2" transform="translate(237.50 259.20) scale(1 1.12) translate(-237.50 -259.20)">0.8</text>
<line x1="277.70" y1="251.20" x2="277.70" y2="254.60" stroke="#333" stroke-width="0.6"/>
<text x="277.70" y="259.20" font-size="5.9" font-weight="bold" text-anchor="middle" fill="#000" stroke="#000" stroke-width="0.2" transform="translate(277.70 259.20) scale(1 1.12) translate(-277.70 -259.20)">0.9</text>
<line x1="317.90" y1="251.20" x2="317.90" y2="254.60" stroke="#333" stroke-width="0.6"/>
<text x="317.90" y="259.20" font-size="5.9" font-weight="bold" text-anchor="middle" fill="#000" stroke="#000" stroke-width="0.2" transform="translate(317.90 259.20) scale(1 1.12) translate(-317.90 -259.20)">1.0</text>
<line x1="358.10" y1="251.20" x2="358.10" y2="254.60" stroke="#333" stroke-width="0.6"/>
<text x="358.10" y="259.20" font-size="5.9" font-weight="bold" text-anchor="middle" fill="#000" stroke="#000" stroke-width="0.2" transform="translate(358.10 259.20) scale(1 1.12) translate(-358.10 -259.20)">1.1</text>
<text x="177.40" y="199.00" font-size="7.8" font-weight="bold" text-anchor="middle" fill="#000" stroke="#000" stroke-width="0.22" transform="rotate(-90 177.40 199.00)">Frequency</text>
<text x="292.50" y="266.50" font-size="7.75" font-weight="bold" text-anchor="middle" fill="#000" stroke="#000" stroke-width="0.22" transform="translate(292.50 266.50) scale(1 1.12) translate(-292.50 -266.50)">Protein Group Cscores</text>
<text x="5.40" y="281.60" font-size="9" font-weight="bold" text-anchor="start" fill="#000" stroke="#000" stroke-width="0.22" transform="translate(5.40 281.60) scale(1 1.12) translate(-5.40 -281.60)">E</text>
<rect x="23.50" y="285.40" width="126.00" height="8.20" fill="#cccccc" stroke="#444" stroke-width="0.5"/>
<text x="83.20" y="291.70" font-size="5.95" font-weight="bold" text-anchor="middle" fill="#000" stroke="#000" stroke-width="0.2" transform="translate(83.20 291.70) scale(1 1.12) translate(-83.20 -291.70)">Protein Abundance</text>
<rect x="23.50" y="293.60" width="126.00" height="101.60" fill="#fff" stroke="#777" stroke-width="0.6"/>
<line x1="21.80" y1="372.80" x2="23.50" y2="372.80" stroke="#555" stroke-width="0.5"/>
<text x="21.00" y="374.90" font-size="6.0" font-weight="bold" text-anchor="end" fill="#000" stroke="#000" stroke-width="0.2" transform="translate(21.00 374.90) scale(1 1.12) translate(-21.00 -374.90)">15</text>
<line x1="21.80" y1="348.40" x2="23.50" y2="348.40" stroke="#555" stroke-width="0.5"/>
<text x="21.00" y="350.50" font-size="6.0" font-weight="bold" text-anchor="end" fill="#000" stroke="#000" stroke-width="0.2" transform="translate(21.00 350.50) scale(1 1.12) translate(-21.00 -350.50)">20</text>
<line x1="21.80" y1="324.00" x2="23.50" y2="324.00" stroke="#555" stroke-width="0.5"/>
<text x="21.00" y="326.10" font-size="6.0" font-weight="bold" text-anchor="end" fill="#000" stroke="#000" stroke-width="0.2" transform="translate(21.00 326.10) scale(1 1.12) translate(-21.00 -326.10)">25</text>
<line x1="21.80" y1="299.60" x2="23.50" y2="299.60" stroke="#555" stroke-width="0.5"/>
<text x="21.00" y="301.70" font-size="6.0" font-weight="bold" text-anchor="end" fill="#000" stroke="#000" stroke-width="0.2" transform="translate(21.00 301.70) scale(1 1.12) translate(-21.00 -301.70)">30</text>
<line x1="26.70" y1="303.00" x2="26.70" y2="388.00" stroke="#d0d0d0" stroke-width="1.0"/>
<rect x="25.75" y="308.36" width="1.9" height="24.51" fill="#5c5c5c"/>
<rect x="25.75" y="321.45" width="1.9" height="0.5" fill="#bbb"/>
<rect x="25.75" y="315.94" width="1.9" height="0.5" fill="#bbb"/>
<rect x="26.00" y="304.25" width="1.4" height="1.1" fill="#333"/>
<rect x="26.00" y="301.15" width="1.4" height="1.1" fill="#333"/>
<rect x="25.75" y="370.72" width="1.9" height="7.48" fill="#5c5c5c"/>
<rect x="26.00" y="380.65" width="1.4" height="1.1" fill="#333"/>
<rect x="26.00" y="383.69" width="1.4" height="1.1" fill="#333"/>
<rect x="24.60" y="347.00" width="4.20" height="9.60" fill="#3b4a9c" stroke="#333" stroke-width="0.35"/>
<line x1="24.60" y1="351.60" x2="28.80" y2="351.60" stroke="#222" stroke-width="0.6"/>
<line x1="31.90" y1="303.00" x2="31.90" y2="388.00" stroke="#d0d0d0" stroke-width="1.0"/>
<rect x="30.95" y="307.28" width="1.9" height="25.28" fill="#5c5c5c"/>
<rect x="30.95" y="310.37" width="1.9" height="0.5" fill="#bbb"/>
<rect x="30.95" y="319.00" width="1.9" height="0.5" fill="#bbb"/>
<rect x="31.20" y="302.95" width="1.4" height="1.1" fill="#333"/>
<rect x="31.20" y="300.73" width="1.4" height="1.1" fill="#333"/>
<rect x="30.95" y="371.54" width="1.9" height="11.85" fill="#5c5c5c"/>
<rect x="31.20" y="385.87" width="1.4" height="1.1" fill="#333"/>
<rect x="31.20" y="388.61" width="1.4" height="1.1" fill="#333"/>
<rect x="29.80" y="347.00" width="4.20" height="9.60" fill="#3b4a9c" stroke="#333" stroke-width="0.35"/>
<line x1="29.80" y1="351.60" x2="34.00" y2="351.60" stroke="#222" stroke-width="0.6"/>
<line x1="37.10" y1="303.00" x2="37.10" y2="388.00" stroke="#d0d0d0" stroke-width="1.0"/>
<rect x="36.15" y="307.47" width="1.9" height="24.75" fill="#5c5c5c"/>
<rect x="36.15" y="315.81" width="1.9" height="0.5" fill="#bbb"/>
<rect x="36.15" y="310.19" width="1.9" height="0.5" fill="#bbb"/>
<rect x="36.40" y="303.74" width="1.4" height="1.1" fill="#333"/>
<rect x="36.40" y="300.68" width="1.4" height="1.1" fill="#333"/>
<rect x="36.15" y="370.64" width="1.9" height="6.56" fill="#5c5c5c"/>
<rect x="36.40" y="379.36" width="1.4" height="1.1" fill="#333"/>
<rect x="36.40" y="382.76" width="1.4" height="1.1" fill="#333"/>
<rect x="35.00" y="347.00" width="4.20" height="9.60" fill="#3b4a9c" stroke="#333" stroke-width="0.35"/>
<line x1="35.00" y1="351.60" x2="39.20" y2="351.60" stroke="#222" stroke-width="0.6"/>
<line x1="42.30" y1="303.00" x2="42.30" y2="388.00" stroke="#d0d0d0" stroke-width="1.0"/>
<rect x="41.35" y="308.56" width="1.9" height="24.41" fill="#5c5c5c"/>
<rect x="41.35" y="316.55" width="1.9" height="0.5" fill="#bbb"/>
<rect x="41.35" y="318.51" width="1.9" height="0.5" fill="#bbb"/>
<rect x="41.60" y="304.51" width="1.4" height="1.1" fill="#333"/>
<rect x="41.60" y="301.72" width="1.4" height="1.1" fill="#333"/>
<rect x="41.35" y="371.59" width="1.9" height="11.89" fill="#5c5c5c"/>
<rect x="41.60" y="386.25" width="1.4" height="1.1" fill="#333"/>
<rect x="41.60" y="388.85" width="1.4" height="1.1" fill="#333"/>
<rect x="40.20" y="347.00" width="4.20" height="9.60" fill="#3b4a9c" stroke="#333" stroke-width="0.35"/>
<line x1="40.20" y1="351.60" x2="44.40" y2="351.60" stroke="#222" stroke-width="0.6"/>
<line x1="47.50" y1="303.00" x2="47.50" y2="388.00" stroke="#d0d0d0" stroke-width="1.0"/>
<rect x="46.55" y="307.95" width="1.9" height="24.53" fill="#5c5c5c"/>
<rect x="46.55" y="313.41" width="1.9" height="0.5" fill="#bbb"/>
<rect x="46.55" y="310.79" width="1.9" height="0.5" fill="#bbb"/>
<rect x="46.80" y="303.53" width="1.4" height="1.1" fill="#333"/>
<rect x="46.80" y="300.97" width="1.4" height="1.1" fill="#333"/>
<rect x="46.55" y="370.50" width="1.9" height="12.01" fill="#5c5c5c"/>
<rect x="46.80" y="385.44" width="1.4" height="1.1" fill="#333"/>
<rect x="46.80" y="388.07" width="1.4" height="1.1" fill="#333"/>
<rect x="45.40" y="347.00" width="4.20" height="9.60" fill="#3b4a9c" stroke="#333" stroke-width="0.35"/>
<line x1="45.40" y1="351.60" x2="49.60" y2="351.60" stroke="#222" stroke-width="0.6"/>
<line x1="52.70" y1="303.00" x2="52.70" y2="388.00" stroke="#d0d0d0" stroke-width="1.0"/>
<rect x="51.75" y="307.00" width="1.9" height="25.45" fill="#5c5c5c"/>
<rect x="51.75" y="319.92" width="1.9" height="0.5" fill="#bbb"/>
<rect x="51.75" y="314.64" width="1.9" height="0.5" fill="#bbb"/>
<rect x="52.00" y="302.33" width="1.4" height="1.1" fill="#333"/>
<rect x="52.00" y="300.02" width="1.4" height="1.1" fill="#333"/>
<rect x="51.75" y="370.93" width="1.9" height="6.54" fill="#5c5c5c"/>
<rect x="52.00" y="380.14" width="1.4" height="1.1" fill="#333"/>
<rect x="52.00" y="382.18" width="1.4" height="1.1" fill="#333"/>
<rect x="50.60" y="346.20" width="4.20" height="9.60" fill="#dc4a28" stroke="#333" stroke-width="0.35"/>
<line x1="50.60" y1="350.80" x2="54.80" y2="350.80" stroke="#222" stroke-width="0.6"/>
<line x1="57.90" y1="303.00" x2="57.90" y2="388.00" stroke="#d0d0d0" stroke-width="1.0"/>
<rect x="56.95" y="307.26" width="1.9" height="25.34" fill="#5c5c5c"/>
<rect x="56.95" y="320.83" width="1.9" height="0.5" fill="#bbb"/>
<rect x="56.95" y="318.36" width="1.9" height="0.5" fill="#bbb"/>
<rect x="57.20" y="303.62" width="1.4" height="1.1" fill="#333"/>
<rect x="57.20" y="300.47" width="1.4" height="1.1" fill="#333"/>
<rect x="56.95" y="369.91" width="1.9" height="7.75" fill="#5c5c5c"/>
<rect x="57.20" y="380.35" width="1.4" height="1.1" fill="#333"/>
<rect x="57.20" y="382.22" width="1.4" height="1.1" fill="#333"/>
<rect x="55.80" y="345.50" width="4.20" height="9.60" fill="#dc4a28" stroke="#333" stroke-width="0.35"/>
<line x1="55.80" y1="350.10" x2="60.00" y2="350.10" stroke="#222" stroke-width="0.6"/>
<line x1="63.10" y1="303.00" x2="63.10" y2="388.00" stroke="#d0d0d0" stroke-width="1.0"/>
<rect x="62.15" y="308.68" width="1.9" height="24.06" fill="#5c5c5c"/>
<rect x="62.15" y="312.97" width="1.9" height="0.5" fill="#bbb"/>
<rect x="62.15" y="319.46" width="1.9" height="0.5" fill="#bbb"/>
<rect x="62.40" y="305.02" width="1.4" height="1.1" fill="#333"/>
<rect x="62.40" y="301.41" width="1.4" height="1.1" fill="#333"/>
<rect x="62.15" y="370.56" width="1.9" height="7.20" fill="#5c5c5c"/>
<rect x="62.40" y="379.58" width="1.4" height="1.1" fill="#333"/>
<rect x="62.40" y="382.46" width="1.4" height="1.1" fill="#333"/>
<rect x="61.00" y="345.50" width="4.20" height="9.60" fill="#dc4a28" stroke="#333" stroke-width="0.35"/>
<line x1="61.00" y1="350.10" x2="65.20" y2="350.10" stroke="#222" stroke-width="0.6"/>
<line x1="68.30" y1="303.00" x2="68.30" y2="388.00" stroke="#d0d0d0" stroke-width="1.0"/>
<rect x="67.35" y="309.91" width="1.9" height="23.25" fill="#5c5c5c"/>
<rect x="67.35" y="315.56" width="1.9" height="0.5" fill="#bbb"/>
<rect x="67.35" y="322.53" width="1.9" height="0.5" fill="#bbb"/>
<rect x="67.60" y="306.16" width="1.4" height="1.1" fill="#333"/>
<rect x="67.60" y="302.94" width="1.4" height="1.1" fill="#333"/>
<rect x="67.35" y="370.96" width="1.9" height="11.60" fill="#5c5c5c"/>
<rect x="67.60" y="384.20" width="1.4" height="1.1" fill="#333"/>
<rect x="67.60" y="388.34" width="1.4" height="1.1" fill="#333"/>
<rect x="66.20" y="346.40" width="4.20" height="9.60" fill="#dc4a28" stroke="#333" stroke-width="0.35"/>
<line x1="66.20" y1="351.00" x2="70.40" y2="351.00" stroke="#222" stroke-width="0.6"/>
<line x1="73.50" y1="303.00" x2="73.50" y2="388.00" stroke="#d0d0d0" stroke-width="1.0"/>
<rect x="72.55" y="307.64" width="1.9" height="24.87" fill="#5c5c5c"/>
<rect x="72.55" y="318.91" width="1.9" height="0.5" fill="#bbb"/>
<rect x="72.55" y="313.59" width="1.9" height="0.5" fill="#bbb"/>
<rect x="72.80" y="303.78" width="1.4" height="1.1" fill="#333"/>
<rect x="72.80" y="301.05" width="1.4" height="1.1" fill="#333"/>
<rect x="72.55" y="370.85" width="1.9" height="6.74" fill="#5c5c5c"/>
<rect x="72.80" y="379.45" width="1.4" height="1.1" fill="#333"/>
<rect x="72.80" y="382.79" width="1.4" height="1.1" fill="#333"/>
<rect x="71.40" y="347.20" width="4.20" height="9.60" fill="#dc4a28" stroke="#333" stroke-width="0.35"/>
<line x1="71.40" y1="351.80" x2="75.60" y2="351.80" stroke="#222" stroke-width="0.6"/>
<line x1="78.70" y1="303.00" x2="78.70" y2="388.00" stroke="#d0d0d0" stroke-width="1.0"/>
<rect x="77.75" y="308.12" width="1.9" height="24.63" fill="#5c5c5c"/>
<rect x="77.75" y="321.62" width="1.9" height="0.5" fill="#bbb"/>
<rect x="77.75" y="315.92" width="1.9" height="0.5" fill="#bbb"/>
<rect x="78.00" y="303.93" width="1.4" height="1.1" fill="#333"/>
<rect x="78.00" y="300.58" width="1.4" height="1.1" fill="#333"/>
<rect x="77.75" y="370.08" width="1.9" height="8.11" fill="#5c5c5c"/>
<rect x="78.00" y="381.05" width="1.4" height="1.1" fill="#333"/>
<rect x="78.00" y="383.72" width="1.4" height="1.1" fill="#333"/>
<rect x="76.60" y="346.40" width="4.20" height="9.60" fill="#f2a533" stroke="#333" stroke-width="0.35"/>
<line x1="76.60" y1="351.00" x2="80.80" y2="351.00" stroke="#222" stroke-width="0.6"/>
<line x1="83.90" y1="303.00" x2="83.90" y2="388.00" stroke="#d0d0d0" stroke-width="1.0"/>
<rect x="82.95" y="307.75" width="1.9" height="24.68" fill="#5c5c5c"/>
<rect x="82.95" y="318.62" width="1.9" height="0.5" fill="#bbb"/>
<rect x="82.95" y="321.03" width="1.9" height="0.5" fill="#bbb"/>
<rect x="83.20" y="304.01" width="1.4" height="1.1" fill="#333"/>
<rect x="83.20" y="300.11" width="1.4" height="1.1" fill="#333"/>
<rect x="82.95" y="370.89" width="1.9" height="11.85" fill="#5c5c5c"/>
<rect x="83.20" y="384.87" width="1.4" height="1.1" fill="#333"/>
<rect x="83.20" y="387.19" width="1.4" height="1.1" fill="#333"/>
<rect x="81.80" y="346.40" width="4.20" height="9.60" fill="#f2a533" stroke="#333" stroke-width="0.35"/>
<line x1="81.80" y1="351.00" x2="86.00" y2="351.00" stroke="#222" stroke-width="0.6"/>
<line x1="89.10" y1="303.00" x2="89.10" y2="388.00" stroke="#d0d0d0" stroke-width="1.0"/>
<rect x="88.15" y="307.12" width="1.9" height="26.24" fill="#5c5c5c"/>
<rect x="88.15" y="311.98" width="1.9" height="0.5" fill="#bbb"/>
<rect x="88.15" y="317.57" width="1.9" height="0.5" fill="#bbb"/>
<rect x="88.40" y="303.31" width="1.4" height="1.1" fill="#333"/>
<rect x="88.40" y="299.63" width="1.4" height="1.1" fill="#333"/>
<rect x="88.15" y="370.33" width="1.9" height="10.55" fill="#5c5c5c"/>
<rect x="88.40" y="382.64" width="1.4" height="1.1" fill="#333"/>
<rect x="88.40" y="386.26" width="1.4" height="1.1" fill="#333"/>
<rect x="87.00" y="346.40" width="4.20" height="9.60" fill="#f2a533" stroke="#333" stroke-width="0.35"/>
<line x1="87.00" y1="351.00" x2="91.20" y2="351.00" stroke="#222" stroke-width="0.6"/>
<line x1="94.30" y1="303.00" x2="94.30" y2="388.00" stroke="#d0d0d0" stroke-width="1.0"/>
<rect x="93.35" y="307.21" width="1.9" height="25.27" fill="#5c5c5c"/>
<rect x="93.35" y="315.92" width="1.9" height="0.5" fill="#bbb"/>
<rect x="93.35" y="319.44" width="1.9" height="0.5" fill="#bbb"/>
<rect x="93.60" y="302.97" width="1.4" height="1.1" fill="#333"/>
<rect x="93.60" y="300.37" width="1.4" height="1.1" fill="#333"/>
<rect x="93.35" y="370.17" width="1.9" height="12.80" fill="#5c5c5c"/>
<rect x="93.60" y="384.49" width="1.4" height="1.1" fill="#333"/>
<rect x="93.60" y="387.67" width="1.4" height="1.1" fill="#333"/>
<rect x="92.20" y="347.00" width="4.20" height="9.60" fill="#f2a533" stroke="#333" stroke-width="0.35"/>
<line x1="92.20" y1="351.60" x2="96.40" y2="351.60" stroke="#222" stroke-width="0.6"/>
<line x1="99.50" y1="303.00" x2="99.50" y2="388.00" stroke="#d0d0d0" stroke-width="1.0"/>
<rect x="98.55" y="308.34" width="1.9" height="23.94" fill="#5c5c5c"/>
<rect x="98.55" y="312.45" width="1.9" height="0.5" fill="#bbb"/>
<rect x="98.55" y="314.76" width="1.9" height="0.5" fill="#bbb"/>
<rect x="98.80" y="304.15" width="1.4" height="1.1" fill="#333"/>
<rect x="98.80" y="301.68" width="1.4" height="1.1" fill="#333"/>
<rect x="98.55" y="371.40" width="1.9" height="7.95" fill="#5c5c5c"/>
<rect x="98.80" y="382.32" width="1.4" height="1.1" fill="#333"/>
<rect x="98.80" y="384.64" width="1.4" height="1.1" fill="#333"/>
<rect x="97.40" y="347.00" width="4.20" height="9.60" fill="#f2a533" stroke="#333" stroke-width="0.35"/>
<line x1="97.40" y1="351.60" x2="101.60" y2="351.60" stroke="#222" stroke-width="0.6"/>
<line x1="104.70" y1="303.00" x2="104.70" y2="388.00" stroke="#d0d0d0" stroke-width="1.0"/>
<rect x="103.75" y="309.07" width="1.9" height="23.83" fill="#5c5c5c"/>
<rect x="103.75" y="312.76" width="1.9" height="0.5" fill="#bbb"/>
<rect x="103.75" y="311.49" width="1.9" height="0.5" fill="#bbb"/>
<rect x="104.00" y="305.55" width="1.4" height="1.1" fill="#333"/>
<rect x="104.00" y="301.48" width="1.4" height="1.1" fill="#333"/>
<rect x="103.75" y="371.53" width="1.9" height="10.02" fill="#5c5c5c"/>
<rect x="104.00" y="383.09" width="1.4" height="1.1" fill="#333"/>
<rect x="104.00" y="386.81" width="1.4" height="1.1" fill="#333"/>
<rect x="102.60" y="347.00" width="4.20" height="9.60" fill="#22a08c" stroke="#333" stroke-width="0.35"/>
<line x1="102.60" y1="351.60" x2="106.80" y2="351.60" stroke="#222" stroke-width="0.6"/>
<line x1="109.90" y1="303.00" x2="109.90" y2="388.00" stroke="#d0d0d0" stroke-width="1.0"/>
<rect x="108.95" y="308.45" width="1.9" height="24.63" fill="#5c5c5c"/>
<rect x="108.95" y="314.27" width="1.9" height="0.5" fill="#bbb"/>
<rect x="108.95" y="322.44" width="1.9" height="0.5" fill="#bbb"/>
<rect x="109.20" y="304.86" width="1.4" height="1.1" fill="#333"/>
<rect x="109.20" y="301.29" width="1.4" height="1.1" fill="#333"/>
<rect x="108.95" y="371.42" width="1.9" height="10.37" fill="#5c5c5c"/>
<rect x="109.20" y="384.40" width="1.4" height="1.1" fill="#333"/>
<rect x="109.20" y="387.15" width="1.4" height="1.1" fill="#333"/>
<rect x="107.80" y="345.40" width="4.20" height="9.60" fill="#22a08c" stroke="#333" stroke-width="0.35"/>
<line x1="107.80" y1="350.00" x2="112.00" y2="350.00" stroke="#222" stroke-width="0.6"/>
<line x1="115.10" y1="303.00" x2="115.10" y2="388.00" stroke="#d0d0d0" stroke-width="1.0"/>
<rect x="114.15" y="309.38" width="1.9" height="23.92" fill="#5c5c5c"/>
<rect x="114.15" y="315.60" width="1.9" height="0.5" fill="#bbb"/>
<rect x="114.15" y="319.60" width="1.9" height="0.5" fill="#bbb"/>
<rect x="114.40" y="304.80" width="1.4" height="1.1" fill="#333"/>
<rect x="114.40" y="301.83" width="1.4" height="1.1" fill="#333"/>
<rect x="114.15" y="371.22" width="1.9" height="8.49" fill="#5c5c5c"/>
<rect x="114.40" y="382.51" width="1.4" height="1.1" fill="#333"/>
<rect x="114.40" y="384.87" width="1.4" height="1.1" fill="#333"/>
<rect x="113.00" y="346.60" width="4.20" height="9.60" fill="#22a08c" stroke="#333" stroke-width="0.35"/>
<line x1="113.00" y1="351.20" x2="117.20" y2="351.20" stroke="#222" stroke-width="0.6"/>
<line x1="120.30" y1="303.00" x2="120.30" y2="388.00" stroke="#d0d0d0" stroke-width="1.0"/>
<rect x="119.35" y="308.87" width="1.9" height="23.78" fill="#5c5c5c"/>
<rect x="119.35" y="317.87" width="1.9" height="0.5" fill="#bbb"/>
<rect x="119.35" y="318.18" width="1.9" height="0.5" fill="#bbb"/>
<rect x="119.60" y="305.28" width="1.4" height="1.1" fill="#333"/>
<rect x="119.60" y="301.61" width="1.4" height="1.1" fill="#333"/>
<rect x="119.35" y="371.38" width="1.9" height="12.07" fill="#5c5c5c"/>
<rect x="119.60" y="386.05" width="1.4" height="1.1" fill="#333"/>
<rect x="119.60" y="388.34" width="1.4" height="1.1" fill="#333"/>
<rect x="118.20" y="346.60" width="4.20" height="9.60" fill="#22a08c" stroke="#333" stroke-width="0.35"/>
<line x1="118.20" y1="351.20" x2="122.40" y2="351.20" stroke="#222" stroke-width="0.6"/>
<line x1="125.50" y1="303.00" x2="125.50" y2="388.00" stroke="#d0d0d0" stroke-width="1.0"/>
<rect x="124.55" y="309.21" width="1.9" height="23.69" fill="#5c5c5c"/>
<rect x="124.55" y="316.49" width="1.9" height="0.5" fill="#bbb"/>
<rect x="124.55" y="321.27" width="1.9" height="0.5" fill="#bbb"/>
<rect x="124.80" y="305.60" width="1.4" height="1.1" fill="#333"/>
<rect x="124.80" y="301.80" width="1.4" height="1.1" fill="#333"/>
<rect x="124.55" y="370.88" width="1.9" height="6.31" fill="#5c5c5c"/>
<rect x="124.80" y="379.42" width="1.4" height="1.1" fill="#333"/>
<rect x="124.80" y="381.84" width="1.4" height="1.1" fill="#333"/>
<rect x="123.40" y="346.60" width="4.20" height="9.60" fill="#22a08c" stroke="#333" stroke-width="0.35"/>
<line x1="123.40" y1="351.20" x2="127.60" y2="351.20" stroke="#222" stroke-width="0.6"/>
<line x1="130.70" y1="303.00" x2="130.70" y2="388.00" stroke="#d0d0d0" stroke-width="1.0"/>
<rect x="129.75" y="309.10" width="1.9" height="23.70" fill="#5c5c5c"/>
<rect x="129.75" y="318.47" width="1.9" height="0.5" fill="#bbb"/>
<rect x="129.75" y="322.14" width="1.9" height="0.5" fill="#bbb"/>
<rect x="130.00" y="305.29" width="1.4" height="1.1" fill="#333"/>
<rect x="130.00" y="302.58" width="1.4" height="1.1" fill="#333"/>
<rect x="129.75" y="371.02" width="1.9" height="7.94" fill="#5c5c5c"/>
<rect x="130.00" y="380.76" width="1.4" height="1.1" fill="#333"/>
<rect x="130.00" y="383.51" width="1.4" height="1.1" fill="#333"/>
<rect x="128.60" y="346.80" width="4.20" height="9.60" fill="#ec8c34" stroke="#333" stroke-width="0.35"/>
<line x1="128.60" y1="351.40" x2="132.80" y2="351.40" stroke="#222" stroke-width="0.6"/>
<line x1="135.90" y1="303.00" x2="135.90" y2="388.00" stroke="#d0d0d0" stroke-width="1.0"/>
<rect x="134.95" y="309.72" width="1.9" height="23.27" fill="#5c5c5c"/>
<rect x="134.95" y="317.02" width="1.9" height="0.5" fill="#bbb"/>
<rect x="134.95" y="322.42" width="1.9" height="0.5" fill="#bbb"/>
<rect x="135.20" y="305.82" width="1.4" height="1.1" fill="#333"/>
<rect x="135.20" y="302.42" width="1.4" height="1.1" fill="#333"/>
<rect x="134.95" y="370.58" width="1.9" height="7.71" fill="#5c5c5c"/>
<rect x="135.20" y="381.00" width="1.4" height="1.1" fill="#333"/>
<rect x="135.20" y="383.96" width="1.4" height="1.1" fill="#333"/>
<rect x="133.80" y="346.80" width="4.20" height="9.60" fill="#ec8c34" stroke="#333" stroke-width="0.35"/>
<line x1="133.80" y1="351.40" x2="138.00" y2="351.40" stroke="#222" stroke-width="0.6"/>
<line x1="141.10" y1="303.00" x2="141.10" y2="388.00" stroke="#d0d0d0" stroke-width="1.0"/>
<rect x="140.15" y="309.64" width="1.9" height="23.02" fill="#5c5c5c"/>
<rect x="140.15" y="318.64" width="1.9" height="0.5" fill="#bbb"/>
<rect x="140.15" y="315.44" width="1.9" height="0.5" fill="#bbb"/>
<rect x="140.40" y="305.98" width="1.4" height="1.1" fill="#333"/>
<rect x="140.40" y="302.55" width="1.4" height="1.1" fill="#333"/>
<rect x="140.15" y="371.33" width="1.9" height="11.11" fill="#5c5c5c"/>
<rect x="140.40" y="385.01" width="1.4" height="1.1" fill="#333"/>
<rect x="140.40" y="388.17" width="1.4" height="1.1" fill="#333"/>
<rect x="139.00" y="346.80" width="4.20" height="9.60" fill="#ec8c34" stroke="#333" stroke-width="0.35"/>
<line x1="139.00" y1="351.40" x2="143.20" y2="351.40" stroke="#222" stroke-width="0.6"/>
<line x1="146.30" y1="303.00" x2="146.30" y2="388.00" stroke="#d0d0d0" stroke-width="1.0"/>
<rect x="145.35" y="307.83" width="1.9" height="24.57" fill="#5c5c5c"/>
<rect x="145.35" y="315.24" width="1.9" height="0.5" fill="#bbb"/>
<rect x="145.35" y="313.13" width="1.9" height="0.5" fill="#bbb"/>
<rect x="145.60" y="304.07" width="1.4" height="1.1" fill="#333"/>
<rect x="145.60" y="300.83" width="1.4" height="1.1" fill="#333"/>
<rect x="145.35" y="370.69" width="1.9" height="10.38" fill="#5c5c5c"/>
<rect x="145.60" y="383.04" width="1.4" height="1.1" fill="#333"/>
<rect x="145.60" y="386.63" width="1.4" height="1.1" fill="#333"/>
<rect x="144.20" y="346.80" width="4.20" height="9.60" fill="#ec8c34" stroke="#333" stroke-width="0.35"/>
<line x1="144.20" y1="351.40" x2="148.40" y2="351.40" stroke="#222" stroke-width="0.6"/>
<text x="85.30" y="405.00" font-size="7.75" font-weight="bold" text-anchor="middle" fill="#000" stroke="#000" stroke-width="0.22" transform="translate(85.30 405.00) scale(1 1.12) translate(-85.30 -405.00)">Samples</text>
<text x="11.80" y="342.00" font-size="7.7" font-weight="bold" text-anchor="middle" fill="#000" stroke="#000" stroke-width="0.22" transform="rotate(-90 11.80 342.00)">log2(Protein Abundance)</text>
<text x="151.20" y="291.00" font-size="5.8" font-weight="bold" text-anchor="start" fill="#000" stroke="#000" stroke-width="0.2" transform="translate(151.20 291.00) scale(1 1.12) translate(-151.20 -291.00)">Group</text>
<line x1="155.60" y1="294.80" x2="155.60" y2="302.60" stroke="#444" stroke-width="0.5"/>
<rect x="152.40" y="296.20" width="6.40" height="5.00" fill="#3b3f8f" stroke="#333" stroke-width="0.4"/>
<line x1="152.40" y1="298.70" x2="158.80" y2="298.70" stroke="#333" stroke-width="0.4"/>
<text x="161.20" y="300.70" font-size="5.6" font-weight="bold" text-anchor="start" fill="#000" stroke="#000" stroke-width="0.2" transform="translate(161.20 300.70) scale(1 1.12) translate(-161.20 -300.70)">FH</text>
<line x1="155.60" y1="303.70" x2="155.60" y2="311.50" stroke="#444" stroke-width="0.5"/>
<rect x="152.40" y="305.10" width="6.40" height="5.00" fill="#d33f2a" stroke="#333" stroke-width="0.4"/>
<line x1="152.40" y1="307.60" x2="158.80" y2="307.60" stroke="#333" stroke-width="0.4"/>
<text x="161.20" y="309.60" font-size="5.6" font-weight="bold" text-anchor="start" fill="#000" stroke="#000" stroke-width="0.2" transform="translate(161.20 309.60) scale(1 1.12) translate(-161.20 -309.60)">FL</text>
<line x1="155.60" y1="312.60" x2="155.60" y2="320.40" stroke="#444" stroke-width="0.5"/>
<rect x="152.40" y="314.00" width="6.40" height="5.00" fill="#f0a030" stroke="#333" stroke-width="0.4"/>
<line x1="152.40" y1="316.50" x2="158.80" y2="316.50" stroke="#333" stroke-width="0.4"/>
<text x="161.20" y="318.50" font-size="5.6" font-weight="bold" text-anchor="start" fill="#000" stroke="#000" stroke-width="0.2" transform="translate(161.20 318.50) scale(1 1.12) translate(-161.20 -318.50)">LH</text>
<line x1="155.60" y1="321.50" x2="155.60" y2="329.30" stroke="#444" stroke-width="0.5"/>
<rect x="152.40" y="322.90" width="6.40" height="5.00" fill="#27a08a" stroke="#333" stroke-width="0.4"/>
<line x1="152.40" y1="325.40" x2="158.80" y2="325.40" stroke="#333" stroke-width="0.4"/>
<text x="161.20" y="327.40" font-size="5.6" font-weight="bold" text-anchor="start" fill="#000" stroke="#000" stroke-width="0.2" transform="translate(161.20 327.40) scale(1 1.12) translate(-161.20 -327.40)">LL</text>
<line x1="155.60" y1="330.40" x2="155.60" y2="338.20" stroke="#444" stroke-width="0.5"/>
<rect x="152.40" y="331.80" width="6.40" height="5.00" fill="#e8883a" stroke="#333" stroke-width="0.4"/>
<line x1="152.40" y1="334.30" x2="158.80" y2="334.30" stroke="#333" stroke-width="0.4"/>
<text x="161.20" y="336.30" font-size="5.6" font-weight="bold" text-anchor="start" fill="#000" stroke="#000" stroke-width="0.2" transform="translate(161.20 336.30) scale(1 1.12) translate(-161.20 -336.30)">QC</text>
<text x="175.20" y="280.40" font-size="9" font-weight="bold" text-anchor="start" fill="#000" stroke="#000" stroke-width="0.22" transform="translate(175.20 280.40) scale(1 1.12) translate(-175.20 -280.40)">F</text>
<rect x="204.30" y="276.20" width="76.00" height="7.00" fill="#cccccc" stroke="#444" stroke-width="0.5"/>
<text x="242.30" y="281.80" font-size="5.6" font-weight="bold" text-anchor="middle" fill="#000" stroke="#000" stroke-width="0.2" transform="translate(242.30 281.80) scale(1 1.12) translate(-242.30 -281.80)">Identified Peptides</text>
<rect x="204.30" y="283.20" width="76.00" height="122.60" fill="#fff" stroke="#777" stroke-width="0.6"/>
<line x1="202.70" y1="293.20" x2="204.30" y2="293.20" stroke="#555" stroke-width="0.5"/>
<text x="202.60" y="295.30" font-size="6.2" font-weight="bold" text-anchor="end" fill="#000" stroke="#000" stroke-width="0.2" transform="translate(202.60 295.30) scale(1 1.12) translate(-202.60 -295.30)">60,000</text>
<line x1="202.70" y1="330.90" x2="204.30" y2="330.90" stroke="#555" stroke-width="0.5"/>
<text x="202.60" y="333.00" font-size="6.2" font-weight="bold" text-anchor="end" fill="#000" stroke="#000" stroke-width="0.2" transform="translate(202.60 333.00) scale(1 1.12) translate(-202.60 -333.00)">40,000</text>
<line x1="202.70" y1="368.50" x2="204.30" y2="368.50" stroke="#555" stroke-width="0.5"/>
<text x="202.60" y="370.60" font-size="6.2" font-weight="bold" text-anchor="end" fill="#000" stroke="#000" stroke-width="0.2" transform="translate(202.60 370.60) scale(1 1.12) translate(-202.60 -370.60)">20,000</text>
<line x1="202.70" y1="405.80" x2="204.30" y2="405.80" stroke="#555" stroke-width="0.5"/>
<text x="202.60" y="407.90" font-size="6.2" font-weight="bold" text-anchor="end" fill="#000" stroke="#000" stroke-width="0.2" transform="translate(202.60 407.90) scale(1 1.12) translate(-202.60 -407.90)">0</text>
<rect x="206.00" y="286.40" width="3.10" height="3.60" fill="#3b3a8a" stroke="none" stroke-width="0.5"/>
<text x="209.20" y="290.00" font-size="4.6" font-weight="bold" text-anchor="start" fill="#222" stroke="#222" stroke-width="0.2" transform="translate(209.20 290.00) scale(1 1.12) translate(-209.20 -290.00)">FH</text>
<rect x="216.90" y="286.40" width="3.10" height="3.60" fill="#e0472a" stroke="none" stroke-width="0.5"/>
<text x="220.10" y="290.00" font-size="4.6" font-weight="bold" text-anchor="start" fill="#222" stroke="#222" stroke-width="0.2" transform="translate(220.10 290.00) scale(1 1.12) translate(-220.10 -290.00)">FL</text>
<rect x="227.80" y="286.40" width="3.10" height="3.60" fill="#f2a33a" stroke="none" stroke-width="0.5"/>
<text x="231.00" y="290.00" font-size="4.6" font-weight="bold" text-anchor="start" fill="#222" stroke="#222" stroke-width="0.2" transform="translate(231.00 290.00) scale(1 1.12) translate(-231.00 -290.00)">LH</text>
<rect x="238.70" y="286.40" width="3.10" height="3.60" fill="#24a08a" stroke="none" stroke-width="0.5"/>
<text x="241.90" y="290.00" font-size="4.6" font-weight="bold" text-anchor="start" fill="#222" stroke="#222" stroke-width="0.2" transform="translate(241.90 290.00) scale(1 1.12) translate(-241.90 -290.00)">LL</text>
<rect x="205.35" y="307.80" width="2.10" height="98.00" fill="#3b3a8a" stroke="none" stroke-width="0.5"/>
<rect x="209.11" y="313.00" width="2.10" height="92.80" fill="#3b3a8a" stroke="none" stroke-width="0.5"/>
<rect x="212.88" y="310.00" width="2.10" height="95.80" fill="#3b3a8a" stroke="none" stroke-width="0.5"/>
<rect x="216.64" y="319.70" width="2.10" height="86.10" fill="#3b3a8a" stroke="none" stroke-width="0.5"/>
<rect x="220.40" y="313.00" width="2.10" height="92.80" fill="#3b3a8a" stroke="none" stroke-width="0.5"/>
<rect x="224.17" y="304.50" width="2.10" height="101.30" fill="#e0472a" stroke="none" stroke-width="0.5"/>
<rect x="227.93" y="319.50" width="2.10" height="86.30" fill="#e0472a" stroke="none" stroke-width="0.5"/>
<rect x="231.69" y="314.00" width="2.10" height="91.80" fill="#e0472a" stroke="none" stroke-width="0.5"/>
<rect x="235.46" y="324.90" width="2.10" height="80.90" fill="#e0472a" stroke="none" stroke-width="0.5"/>
<rect x="239.22" y="314.00" width="2.10" height="91.80" fill="#e0472a" stroke="none" stroke-width="0.5"/>
<rect x="242.98" y="325.50" width="2.10" height="80.30" fill="#f2a33a" stroke="none" stroke-width="0.5"/>
<rect x="246.74" y="319.70" width="2.10" height="86.10" fill="#f2a33a" stroke="none" stroke-width="0.5"/>
<rect x="250.51" y="318.00" width="2.10" height="87.80" fill="#f2a33a" stroke="none" stroke-width="0.5"/>
<rect x="254.27" y="312.00" width="2.10" height="93.80" fill="#f2a33a" stroke="none" stroke-width="0.5"/>
<rect x="258.03" y="316.90" width="2.10" height="88.90" fill="#f2a33a" stroke="none" stroke-width="0.5"/>
<rect x="261.80" y="314.30" width="2.10" height="91.50" fill="#24a08a" stroke="none" stroke-width="0.5"/>
<rect x="265.56" y="319.70" width="2.10" height="86.10" fill="#24a08a" stroke="none" stroke-width="0.5"/>
<rect x="269.32" y="324.50" width="2.10" height="81.30" fill="#24a08a" stroke="none" stroke-width="0.5"/>
<rect x="273.09" y="318.60" width="2.10" height="87.20" fill="#24a08a" stroke="none" stroke-width="0.5"/>
<rect x="276.85" y="319.00" width="2.10" height="86.80" fill="#24a08a" stroke="none" stroke-width="0.5"/>
<line x1="204.60" y1="355.30" x2="279.80" y2="355.30" stroke="#000" stroke-width="1.2" stroke-dasharray="4.4 4.3"/>
<text x="181.40" y="335.10" font-size="7.75" font-weight="bold" text-anchor="middle" fill="#000" stroke="#000" stroke-width="0.22" transform="rotate(-90 181.40 335.10)">Unique Peptides</text>
<rect x="306.60" y="276.20" width="76.80" height="7.00" fill="#cccccc" stroke="#444" stroke-width="0.5"/>
<text x="345.00" y="281.80" font-size="5.6" font-weight="bold" text-anchor="middle" fill="#000" stroke="#000" stroke-width="0.2" transform="translate(345.00 281.80) scale(1 1.12) translate(-345.00 -281.80)">Identified Protein Groups</text>
<rect x="306.60" y="283.20" width="76.80" height="122.60" fill="#fff" stroke="#777" stroke-width="0.6"/>
<line x1="305.00" y1="286.40" x2="306.60" y2="286.40" stroke="#555" stroke-width="0.5"/>
<text x="305.00" y="288.50" font-size="6.2" font-weight="bold" text-anchor="end" fill="#000" stroke="#000" stroke-width="0.2" transform="translate(305.00 288.50) scale(1 1.12) translate(-305.00 -288.50)">6000</text>
<line x1="305.00" y1="326.40" x2="306.60" y2="326.40" stroke="#555" stroke-width="0.5"/>
<text x="305.00" y="328.50" font-size="6.2" font-weight="bold" text-anchor="end" fill="#000" stroke="#000" stroke-width="0.2" transform="translate(305.00 328.50) scale(1 1.12) translate(-305.00 -328.50)">4000</text>
<line x1="305.00" y1="366.40" x2="306.60" y2="366.40" stroke="#555" stroke-width="0.5"/>
<text x="305.00" y="368.50" font-size="6.2" font-weight="bold" text-anchor="end" fill="#000" stroke="#000" stroke-width="0.2" transform="translate(305.00 368.50) scale(1 1.12) translate(-305.00 -368.50)">2000</text>
<line x1="305.00" y1="405.80" x2="306.60" y2="405.80" stroke="#555" stroke-width="0.5"/>
<text x="305.00" y="407.90" font-size="6.2" font-weight="bold" text-anchor="end" fill="#000" stroke="#000" stroke-width="0.2" transform="translate(305.00 407.90) scale(1 1.12) translate(-305.00 -407.90)">0</text>
<rect x="308.30" y="286.40" width="3.10" height="3.60" fill="#3b3a8a" stroke="none" stroke-width="0.5"/>
<text x="311.50" y="290.00" font-size="4.6" font-weight="bold" text-anchor="start" fill="#222" stroke="#222" stroke-width="0.2" transform="translate(311.50 290.00) scale(1 1.12) translate(-311.50 -290.00)">FH</text>
<rect x="319.20" y="286.40" width="3.10" height="3.60" fill="#e0472a" stroke="none" stroke-width="0.5"/>
<text x="322.40" y="290.00" font-size="4.6" font-weight="bold" text-anchor="start" fill="#222" stroke="#222" stroke-width="0.2" transform="translate(322.40 290.00) scale(1 1.12) translate(-322.40 -290.00)">FL</text>
<rect x="330.10" y="286.40" width="3.10" height="3.60" fill="#f2a33a" stroke="none" stroke-width="0.5"/>
<text x="333.30" y="290.00" font-size="4.6" font-weight="bold" text-anchor="start" fill="#222" stroke="#222" stroke-width="0.2" transform="translate(333.30 290.00) scale(1 1.12) translate(-333.30 -290.00)">LH</text>
<rect x="341.00" y="286.40" width="3.10" height="3.60" fill="#24a08a" stroke="none" stroke-width="0.5"/>
<text x="344.20" y="290.00" font-size="4.6" font-weight="bold" text-anchor="start" fill="#222" stroke="#222" stroke-width="0.2" transform="translate(344.20 290.00) scale(1 1.12) translate(-344.20 -290.00)">LL</text>
<rect x="307.65" y="305.90" width="2.10" height="99.90" fill="#3b3a8a" stroke="none" stroke-width="0.5"/>
<rect x="311.46" y="306.40" width="2.10" height="99.40" fill="#3b3a8a" stroke="none" stroke-width="0.5"/>
<rect x="315.26" y="307.30" width="2.10" height="98.50" fill="#3b3a8a" stroke="none" stroke-width="0.5"/>
<rect x="319.07" y="309.30" width="2.10" height="96.50" fill="#3b3a8a" stroke="none" stroke-width="0.5"/>
<rect x="322.87" y="307.30" width="2.10" height="98.50" fill="#3b3a8a" stroke="none" stroke-width="0.5"/>
<rect x="326.68" y="305.00" width="2.10" height="100.80" fill="#e0472a" stroke="none" stroke-width="0.5"/>
<rect x="330.48" y="312.10" width="2.10" height="93.70" fill="#e0472a" stroke="none" stroke-width="0.5"/>
<rect x="334.29" y="307.30" width="2.10" height="98.50" fill="#e0472a" stroke="none" stroke-width="0.5"/>
<rect x="338.09" y="313.00" width="2.10" height="92.80" fill="#e0472a" stroke="none" stroke-width="0.5"/>
<rect x="341.90" y="307.30" width="2.10" height="98.50" fill="#e0472a" stroke="none" stroke-width="0.5"/>
<rect x="345.70" y="312.10" width="2.10" height="93.70" fill="#f2a33a" stroke="none" stroke-width="0.5"/>
<rect x="349.51" y="309.30" width="2.10" height="96.50" fill="#f2a33a" stroke="none" stroke-width="0.5"/>
<rect x="353.31" y="308.40" width="2.10" height="97.40" fill="#f2a33a" stroke="none" stroke-width="0.5"/>
<rect x="357.12" y="307.90" width="2.10" height="97.90" fill="#f2a33a" stroke="none" stroke-width="0.5"/>
<rect x="360.92" y="308.70" width="2.10" height="97.10" fill="#f2a33a" stroke="none" stroke-width="0.5"/>
<rect x="364.73" y="307.90" width="2.10" height="97.90" fill="#24a08a" stroke="none" stroke-width="0.5"/>
<rect x="368.53" y="308.70" width="2.10" height="97.10" fill="#24a08a" stroke="none" stroke-width="0.5"/>
<rect x="372.34" y="311.30" width="2.10" height="94.50" fill="#24a08a" stroke="none" stroke-width="0.5"/>
<rect x="376.14" y="308.40" width="2.10" height="97.40" fill="#24a08a" stroke="none" stroke-width="0.5"/>
<rect x="379.95" y="307.90" width="2.10" height="97.90" fill="#24a08a" stroke="none" stroke-width="0.5"/>
<line x1="306.90" y1="355.30" x2="382.90" y2="355.30" stroke="#000" stroke-width="1.2" stroke-dasharray="4.4 4.3"/>
<text x="287.80" y="333.50" font-size="7.75" font-weight="bold" text-anchor="middle" fill="#000" stroke="#000" stroke-width="0.22" transform="rotate(-90 287.80 333.50)">Protein Groups</text>
<text x="5.80" y="410.40" font-size="9" font-weight="bold" text-anchor="start" fill="#000" stroke="#000" stroke-width="0.22" transform="translate(5.80 410.40) scale(1 1.12) translate(-5.80 -410.40)">G</text>
<line x1="49.10" y1="416.90" x2="49.10" y2="523.50" stroke="#111" stroke-width="0.9"/>
<line x1="49.10" y1="523.50" x2="156.80" y2="523.50" stroke="#111" stroke-width="0.9"/>
<line x1="45.40" y1="523.50" x2="49.10" y2="523.50" stroke="#111" stroke-width="0.8"/>
<text x="43.90" y="525.70" font-size="6.3" font-weight="bold" text-anchor="end" fill="#000" stroke="#000" stroke-width="0.2" transform="translate(43.90 525.70) scale(1 1.12) translate(-43.90 -525.70)">0</text>
<line x1="45.40" y1="502.34" x2="49.10" y2="502.34" stroke="#111" stroke-width="0.8"/>
<text x="43.90" y="504.54" font-size="6.3" font-weight="bold" text-anchor="end" fill="#000" stroke="#000" stroke-width="0.2" transform="translate(43.90 504.54) scale(1 1.12) translate(-43.90 -504.54)">20,000</text>
<line x1="45.40" y1="481.18" x2="49.10" y2="481.18" stroke="#111" stroke-width="0.8"/>
<text x="43.90" y="483.38" font-size="6.3" font-weight="bold" text-anchor="end" fill="#000" stroke="#000" stroke-width="0.2" transform="translate(43.90 483.38) scale(1 1.12) translate(-43.90 -483.38)">40,000</text>
<line x1="45.40" y1="460.02" x2="49.10" y2="460.02" stroke="#111" stroke-width="0.8"/>
<text x="43.90" y="462.22" font-size="6.3" font-weight="bold" text-anchor="end" fill="#000" stroke="#000" stroke-width="0.2" transform="translate(43.90 462.22) scale(1 1.12) translate(-43.90 -462.22)">60,000</text>
<line x1="45.40" y1="438.86" x2="49.10" y2="438.86" stroke="#111" stroke-width="0.8"/>
<text x="43.90" y="441.06" font-size="6.3" font-weight="bold" text-anchor="end" fill="#000" stroke="#000" stroke-width="0.2" transform="translate(43.90 441.06) scale(1 1.12) translate(-43.90 -441.06)">80,000</text>
<line x1="45.40" y1="417.70" x2="49.10" y2="417.70" stroke="#111" stroke-width="0.8"/>
<text x="43.90" y="419.90" font-size="6.3" font-weight="bold" text-anchor="end" fill="#000" stroke="#000" stroke-width="0.2" transform="translate(43.90 419.90) scale(1 1.12) translate(-43.90 -419.90)">100,000</text>
<rect x="56.40" y="437.65" width="14.00" height="85.85" fill="#2e8b84" stroke="#000" stroke-width="0.7"/>
<text x="65.40" y="435.85" font-size="5.2" font-weight="bold" text-anchor="start" fill="#000" stroke="#000" stroke-width="0.2" transform="rotate(-90 65.40 435.85)">81,147</text>
<rect x="77.20" y="442.88" width="14.20" height="80.62" fill="#8a8a3a" stroke="#000" stroke-width="0.7"/>
<text x="86.30" y="441.08" font-size="5.2" font-weight="bold" text-anchor="start" fill="#000" stroke="#000" stroke-width="0.2" transform="rotate(-90 86.30 441.08)">76,197</text>
<rect x="113.00" y="514.47" width="13.50" height="9.03" fill="#2e8b84" stroke="#000" stroke-width="0.7"/>
<text x="121.75" y="512.67" font-size="5.2" font-weight="bold" text-anchor="start" fill="#000" stroke="#000" stroke-width="0.2" transform="rotate(-90 121.75 512.67)">8536</text>
<rect x="134.00" y="517.78" width="13.50" height="5.72" fill="#8a8a3a" stroke="#000" stroke-width="0.7"/>
<text x="142.75" y="515.98" font-size="5.2" font-weight="bold" text-anchor="start" fill="#000" stroke="#000" stroke-width="0.2" transform="rotate(-90 142.75 515.98)">5409</text>
<line x1="73.60" y1="523.50" x2="73.60" y2="527.00" stroke="#111" stroke-width="0.8"/>
<line x1="130.70" y1="523.50" x2="130.70" y2="527.00" stroke="#111" stroke-width="0.8"/>
<text x="75.40" y="537.00" font-size="7.75" font-weight="bold" text-anchor="middle" fill="#000" stroke="#000" stroke-width="0.22" transform="translate(75.40 537.00) scale(1 1.12) translate(-75.40 -537.00)">Peptides</text>
<text x="130.70" y="537.00" font-size="7.75" font-weight="bold" text-anchor="middle" fill="#000" stroke="#000" stroke-width="0.22" transform="translate(130.70 537.00) scale(1 1.12) translate(-130.70 -537.00)">Protein Groups</text>
<text x="16.00" y="471.60" font-size="7.6" font-weight="bold" text-anchor="middle" fill="#000" stroke="#000" stroke-width="0.22" transform="rotate(-90 16.00 471.60)">Number</text>
<rect x="118.10" y="420.20" width="9.80" height="5.60" fill="#2e8b84" stroke="#000" stroke-width="0.6"/>
<text x="130.70" y="425.00" font-size="5.2" font-weight="bold" text-anchor="start" fill="#000" stroke="#000" stroke-width="0.2" transform="translate(130.70 425.00) scale(1 1.12) translate(-130.70 -425.00)">DDA</text>
<rect x="118.10" y="433.10" width="9.80" height="5.60" fill="#8a8a3a" stroke="#000" stroke-width="0.6"/>
<text x="130.70" y="438.00" font-size="5.2" font-weight="bold" text-anchor="start" fill="#000" stroke="#000" stroke-width="0.2" transform="translate(130.70 438.00) scale(1 1.12) translate(-130.70 -438.00)">DIA</text>
<text x="193.60" y="423.90" font-size="9" font-weight="bold" text-anchor="start" fill="#000" stroke="#000" stroke-width="0.22" transform="translate(193.60 423.90) scale(1 1.12) translate(-193.60 -423.90)">H</text>
<defs>
<clipPath id="cpFH"><ellipse cx="259.94" cy="493.04" rx="63.71" ry="39.06" transform="rotate(45 259.94 493.04)"/></clipPath>
<clipPath id="cpLH"><ellipse cx="287.24" cy="474.84" rx="63.71" ry="26.16" transform="rotate(45 287.24 474.84)"/></clipPath>
<clipPath id="cpLL"><ellipse cx="287.24" cy="474.84" rx="60.07" ry="26.16" transform="rotate(-45 287.24 474.84)"/></clipPath>
<clipPath id="cpFL"><ellipse cx="314.55" cy="493.04" rx="63.71" ry="39.06" transform="rotate(-45 314.55 493.04)"/></clipPath>
</defs>
<ellipse cx="259.94" cy="493.04" rx="63.71" ry="39.06" transform="rotate(45 259.94 493.04)" fill="#8f86ae"/>
<ellipse cx="287.24" cy="474.84" rx="63.71" ry="26.16" transform="rotate(45 287.24 474.84)" fill="#f3c68c"/>
<ellipse cx="287.24" cy="474.84" rx="60.07" ry="26.16" transform="rotate(-45 287.24 474.84)" fill="#95ad80"/>
<ellipse cx="314.55" cy="493.04" rx="63.71" ry="39.06" transform="rotate(-45 314.55 493.04)" fill="#e89c78"/>
<g clip-path="url(#cpLH)"><ellipse cx="259.94" cy="493.04" rx="63.71" ry="39.06" transform="rotate(45 259.94 493.04)" fill="#c4947c"/></g>
<g clip-path="url(#cpLL)"><ellipse cx="259.94" cy="493.04" rx="63.71" ry="39.06" transform="rotate(45 259.94 493.04)" fill="#738773"/></g>
<g clip-path="url(#cpFL)"><ellipse cx="259.94" cy="493.04" rx="63.71" ry="39.06" transform="rotate(45 259.94 493.04)" fill="#91697d"/></g>
<g clip-path="url(#cpLL)"><ellipse cx="287.24" cy="474.84" rx="63.71" ry="26.16" transform="rotate(45 287.24 474.84)" fill="#cdaa6e"/></g>
<g clip-path="url(#cpFL)"><ellipse cx="287.24" cy="474.84" rx="63.71" ry="26.16" transform="rotate(45 287.24 474.84)" fill="#e6965a"/></g>
<g clip-path="url(#cpFL)"><ellipse cx="287.24" cy="474.84" rx="60.07" ry="26.16" transform="rotate(-45 287.24 474.84)" fill="#a09664"/></g>
<g clip-path="url(#cpLH)"><g clip-path="url(#cpLL)"><ellipse cx="259.94" cy="493.04" rx="63.71" ry="39.06" transform="rotate(45 259.94 493.04)" fill="#ac8a5c"/></g></g>
<g clip-path="url(#cpLH)"><g clip-path="url(#cpFL)"><ellipse cx="259.94" cy="493.04" rx="63.71" ry="39.06" transform="rotate(45 259.94 493.04)" fill="#c37d64"/></g></g>
<g clip-path="url(#cpLL)"><g clip-path="url(#cpFL)"><ellipse cx="259.94" cy="493.04" rx="63.71" ry="39.06" transform="rotate(45 259.94 493.04)" fill="#787864"/></g></g>
<g clip-path="url(#cpLL)"><g clip-path="url(#cpFL)"><ellipse cx="287.24" cy="474.84" rx="63.71" ry="26.16" transform="rotate(45 287.24 474.84)" fill="#c89650"/></g></g>
<g clip-path="url(#cpLH)"><g clip-path="url(#cpLL)"><g clip-path="url(#cpFL)"><ellipse cx="259.94" cy="493.04" rx="63.71" ry="39.06" transform="rotate(45 259.94 493.04)" fill="#a88255"/></g></g></g>
<ellipse cx="259.94" cy="493.04" rx="63.71" ry="39.06" transform="rotate(45 259.94 493.04)" fill="none" stroke="#5f5590" stroke-width="0.75" stroke-dasharray="1.0 0.8" stroke-opacity="1"/>
<ellipse cx="287.24" cy="474.84" rx="63.71" ry="26.16" transform="rotate(45 287.24 474.84)" fill="none" stroke="#d89050" stroke-width="0.75" stroke-dasharray="1.0 0.8" stroke-opacity="1"/>
<ellipse cx="287.24" cy="474.84" rx="60.07" ry="26.16" transform="rotate(-45 287.24 474.84)" fill="none" stroke="#5f8a50" stroke-width="0.75" stroke-dasharray="1.0 0.8" stroke-opacity="1"/>
<ellipse cx="314.55" cy="493.04" rx="63.71" ry="39.06" transform="rotate(-45 314.55 493.04)" fill="none" stroke="#d86a4a" stroke-width="0.75" stroke-dasharray="1.0 0.8" stroke-opacity="1"/>
<text x="263.00" y="439.40" font-size="7.9" font-weight="bold" text-anchor="middle" fill="#111" stroke="#111" stroke-width="0.22" transform="translate(263.00 439.40) scale(1 1.15) translate(-263.00 -439.40)">28</text>
<text x="318.20" y="438.80" font-size="7.9" font-weight="bold" text-anchor="middle" fill="#111" stroke="#111" stroke-width="0.22" transform="translate(318.20 438.80) scale(1 1.15) translate(-318.20 -438.80)">20</text>
<text x="231.30" y="474.50" font-size="7.9" font-weight="bold" text-anchor="middle" fill="#111" stroke="#111" stroke-width="0.22" transform="translate(231.30 474.50) scale(1 1.15) translate(-231.30 -474.50)">28</text>
<text x="349.30" y="474.30" font-size="7.9" font-weight="bold" text-anchor="middle" fill="#111" stroke="#111" stroke-width="0.22" transform="translate(349.30 474.30) scale(1 1.15) translate(-349.30 -474.30)">37</text>
<text x="290.80" y="454.30" font-size="7.9" font-weight="bold" text-anchor="middle" fill="#111" stroke="#111" stroke-width="0.22" transform="translate(290.80 454.30) scale(1 1.15) translate(-290.80 -454.30)">25</text>
<text x="255.70" y="458.00" font-size="7.9" font-weight="bold" text-anchor="middle" fill="#111" stroke="#111" stroke-width="0.22" transform="translate(255.70 458.00) scale(1 1.15) translate(-255.70 -458.00)">29</text>
<text x="325.80" y="457.90" font-size="7.9" font-weight="bold" text-anchor="middle" fill="#111" stroke="#111" stroke-width="0.22" transform="translate(325.80 457.90) scale(1 1.15) translate(-325.80 -457.90)">14</text>
<text x="272.00" y="474.50" font-size="7.9" font-weight="bold" text-anchor="middle" fill="#111" stroke="#111" stroke-width="0.22" transform="translate(272.00 474.50) scale(1 1.15) translate(-272.00 -474.50)">61</text>
<text x="309.00" y="474.30" font-size="7.9" font-weight="bold" text-anchor="middle" fill="#111" stroke="#111" stroke-width="0.22" transform="translate(309.00 474.30) scale(1 1.15) translate(-309.00 -474.30)">33</text>
<text x="257.40" y="503.70" font-size="7.9" font-weight="bold" text-anchor="middle" fill="#111" stroke="#111" stroke-width="0.22" transform="translate(257.40 503.70) scale(1 1.15) translate(-257.40 -503.70)">33</text>
<text x="323.40" y="503.60" font-size="7.9" font-weight="bold" text-anchor="middle" fill="#111" stroke="#111" stroke-width="0.22" transform="translate(323.40 503.60) scale(1 1.15) translate(-323.40 -503.60)">24</text>
<text x="289.20" y="496.10" font-size="7.9" font-weight="bold" text-anchor="middle" fill="#111" stroke="#111" stroke-width="0.22" transform="translate(289.20 496.10) scale(1 1.15) translate(-289.20 -496.10)">4,732</text>
<text x="274.80" y="513.20" font-size="7.9" font-weight="bold" text-anchor="middle" fill="#111" stroke="#111" stroke-width="0.22" transform="translate(274.80 513.20) scale(1 1.15) translate(-274.80 -513.20)">123</text>
<text x="304.50" y="513.80" font-size="7.9" font-weight="bold" text-anchor="middle" fill="#111" stroke="#111" stroke-width="0.22" transform="translate(304.50 513.80) scale(1 1.15) translate(-304.50 -513.80)">65</text>
<text x="288.40" y="530.90" font-size="7.9" font-weight="bold" text-anchor="middle" fill="#111" stroke="#111" stroke-width="0.22" transform="translate(288.40 530.90) scale(1 1.15) translate(-288.40 -530.90)">55</text>
<text x="209.00" y="444.00" font-size="7.7" font-weight="bold" text-anchor="middle" fill="#5b4e9a" stroke="#5b4e9a" stroke-width="0.22" transform="translate(209.00 444.00) scale(1 1.12) translate(-209.00 -444.00)" style="stroke-width:0.35px">FH</text>
<text x="249.00" y="422.70" font-size="7.7" font-weight="bold" text-anchor="middle" fill="#f0a050" stroke="#f0a050" stroke-width="0.22" transform="translate(249.00 422.70) scale(1 1.12) translate(-249.00 -422.70)" style="stroke-width:0.35px">LH</text>
<text x="323.50" y="423.90" font-size="7.7" font-weight="bold" text-anchor="middle" fill="#5a9a50" stroke="#5a9a50" stroke-width="0.22" transform="translate(323.50 423.90) scale(1 1.12) translate(-323.50 -423.90)" style="stroke-width:0.35px">LL</text>
<text x="357.00" y="440.70" font-size="7.7" font-weight="bold" text-anchor="middle" fill="#e8603a" stroke="#e8603a" stroke-width="0.22" transform="translate(357.00 440.70) scale(1 1.12) translate(-357.00 -440.70)" style="stroke-width:0.35px">FL</text>
</svg></body></html>
